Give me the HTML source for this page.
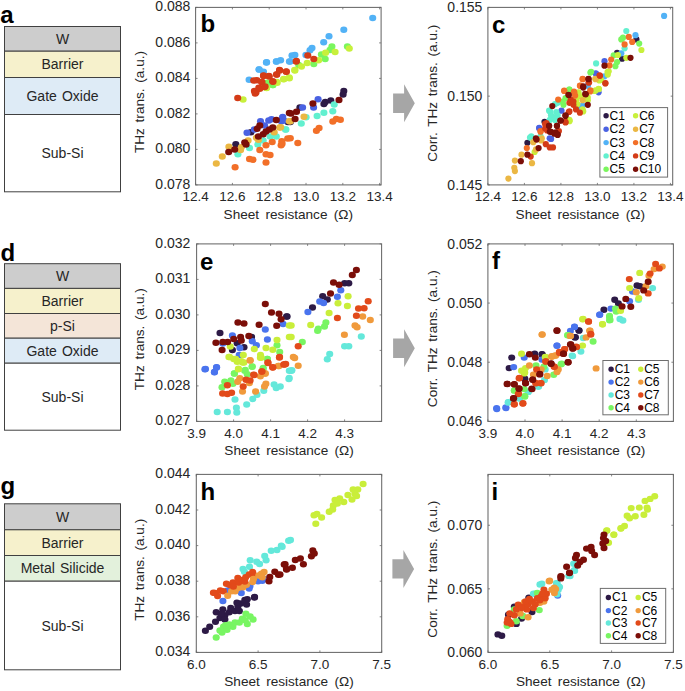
<!DOCTYPE html>
<html><head><meta charset="utf-8"><style>
html,body{margin:0;padding:0;background:#fff;}
svg{display:block;font-family:"Liberation Sans", sans-serif;}
</style></head><body>
<svg width="685" height="691" viewBox="0 0 685 691">
<rect width="685" height="691" fill="#fff"/>
<rect x="4.5" y="26.5" width="116.0" height="24.700000000000003" fill="#cdcdcd" stroke="#404040" stroke-width="1"/>
<text x="62.5" y="43.85" font-size="14" word-spacing="1.2" text-anchor="middle" fill="#262626">W</text>
<rect x="4.5" y="51.2" width="116.0" height="26.299999999999997" fill="#f6f1cc" stroke="#404040" stroke-width="1"/>
<text x="62.5" y="69.35" font-size="14" word-spacing="1.2" text-anchor="middle" fill="#262626">Barrier</text>
<rect x="4.5" y="77.5" width="116.0" height="37.0" fill="#deebf6" stroke="#404040" stroke-width="1"/>
<text x="62.5" y="101.0" font-size="14" word-spacing="1.2" text-anchor="middle" fill="#262626">Gate Oxide</text>
<rect x="4.5" y="114.5" width="116.0" height="77.30000000000001" fill="#ffffff" stroke="#404040" stroke-width="1"/>
<text x="62.5" y="158.15" font-size="14" word-spacing="1.2" text-anchor="middle" fill="#262626">Sub-Si</text>
<text x="0.2" y="22.5" font-size="24" font-weight="bold" fill="#000">a</text>
<rect x="4.5" y="263.7" width="116.0" height="24.69999999999999" fill="#cdcdcd" stroke="#404040" stroke-width="1"/>
<text x="62.5" y="281.04999999999995" font-size="14" word-spacing="1.2" text-anchor="middle" fill="#262626">W</text>
<rect x="4.5" y="288.4" width="116.0" height="25.100000000000023" fill="#f6f1cc" stroke="#404040" stroke-width="1"/>
<text x="62.5" y="305.95" font-size="14" word-spacing="1.2" text-anchor="middle" fill="#262626">Barrier</text>
<rect x="4.5" y="313.5" width="116.0" height="24.69999999999999" fill="#f4e5d8" stroke="#404040" stroke-width="1"/>
<text x="62.5" y="330.85" font-size="14" word-spacing="1.2" text-anchor="middle" fill="#262626">p-Si</text>
<rect x="4.5" y="338.2" width="116.0" height="25.0" fill="#deebf6" stroke="#404040" stroke-width="1"/>
<text x="62.5" y="355.7" font-size="14" word-spacing="1.2" text-anchor="middle" fill="#262626">Gate Oxide</text>
<rect x="4.5" y="363.2" width="116.0" height="67.0" fill="#ffffff" stroke="#404040" stroke-width="1"/>
<text x="62.5" y="401.7" font-size="14" word-spacing="1.2" text-anchor="middle" fill="#262626">Sub-Si</text>
<text x="0.5" y="261" font-size="24" font-weight="bold" fill="#000">d</text>
<rect x="4.5" y="503.8" width="116.0" height="25.999999999999943" fill="#cdcdcd" stroke="#404040" stroke-width="1"/>
<text x="62.5" y="521.8" font-size="14" word-spacing="1.2" text-anchor="middle" fill="#262626">W</text>
<rect x="4.5" y="529.8" width="116.0" height="25.700000000000045" fill="#f6f1cc" stroke="#404040" stroke-width="1"/>
<text x="62.5" y="547.65" font-size="14" word-spacing="1.2" text-anchor="middle" fill="#262626">Barrier</text>
<rect x="4.5" y="555.5" width="116.0" height="25.700000000000045" fill="#e3f1dc" stroke="#404040" stroke-width="1"/>
<text x="62.5" y="573.35" font-size="14" word-spacing="1.2" text-anchor="middle" fill="#262626">Metal Silicide</text>
<rect x="4.5" y="581.2" width="116.0" height="88.59999999999991" fill="#ffffff" stroke="#404040" stroke-width="1"/>
<text x="62.5" y="630.5" font-size="14" word-spacing="1.2" text-anchor="middle" fill="#262626">Sub-Si</text>
<text x="0.5" y="494" font-size="24" font-weight="bold" fill="#000">g</text>
<polygon fill="#a6a6a6" points="393.1,93.6 404.1,93.6 404.1,84.3 414.8,103.3 404.1,122.3 404.1,113.0 393.1,113.0"/>
<polygon fill="#a6a6a6" points="393.1,338.5 404.1,338.5 404.1,329.2 414.8,348.2 404.1,367.2 404.1,357.9 393.1,357.9"/>
<polygon fill="#a6a6a6" points="392.4,559.2 403.4,559.2 403.4,549.9 414.1,568.9 403.4,587.9 403.4,578.6 392.4,578.6"/>
<rect x="195.6" y="7.4" width="185.50000000000003" height="177.5" fill="none" stroke="#686868" stroke-width="1.05"/>
<line x1="195.60" y1="184.9" x2="195.60" y2="182.9" stroke="#686868" stroke-width="0.8"/>
<line x1="195.60" y1="7.4" x2="195.60" y2="9.4" stroke="#686868" stroke-width="0.8"/>
<text x="195.60" y="201.4" font-size="13.5" text-anchor="middle" fill="#262626">12.4</text>
<line x1="232.41" y1="184.9" x2="232.41" y2="182.9" stroke="#686868" stroke-width="0.8"/>
<line x1="232.41" y1="7.4" x2="232.41" y2="9.4" stroke="#686868" stroke-width="0.8"/>
<text x="232.41" y="201.4" font-size="13.5" text-anchor="middle" fill="#262626">12.6</text>
<line x1="269.21" y1="184.9" x2="269.21" y2="182.9" stroke="#686868" stroke-width="0.8"/>
<line x1="269.21" y1="7.4" x2="269.21" y2="9.4" stroke="#686868" stroke-width="0.8"/>
<text x="269.21" y="201.4" font-size="13.5" text-anchor="middle" fill="#262626">12.8</text>
<line x1="306.02" y1="184.9" x2="306.02" y2="182.9" stroke="#686868" stroke-width="0.8"/>
<line x1="306.02" y1="7.4" x2="306.02" y2="9.4" stroke="#686868" stroke-width="0.8"/>
<text x="306.02" y="201.4" font-size="13.5" text-anchor="middle" fill="#262626">13.0</text>
<line x1="342.82" y1="184.9" x2="342.82" y2="182.9" stroke="#686868" stroke-width="0.8"/>
<line x1="342.82" y1="7.4" x2="342.82" y2="9.4" stroke="#686868" stroke-width="0.8"/>
<text x="342.82" y="201.4" font-size="13.5" text-anchor="middle" fill="#262626">13.2</text>
<line x1="379.63" y1="184.9" x2="379.63" y2="182.9" stroke="#686868" stroke-width="0.8"/>
<line x1="379.63" y1="7.4" x2="379.63" y2="9.4" stroke="#686868" stroke-width="0.8"/>
<text x="379.63" y="201.4" font-size="13.5" text-anchor="middle" fill="#262626">13.4</text>
<line x1="195.6" y1="184.90" x2="197.6" y2="184.90" stroke="#686868" stroke-width="0.8"/>
<line x1="381.1" y1="184.90" x2="379.1" y2="184.90" stroke="#686868" stroke-width="0.8"/>
<text x="190.4" y="188.70" font-size="14" text-anchor="end" fill="#262626">0.078</text>
<line x1="195.6" y1="149.40" x2="197.6" y2="149.40" stroke="#686868" stroke-width="0.8"/>
<line x1="381.1" y1="149.40" x2="379.1" y2="149.40" stroke="#686868" stroke-width="0.8"/>
<text x="190.4" y="153.20" font-size="14" text-anchor="end" fill="#262626">0.080</text>
<line x1="195.6" y1="113.90" x2="197.6" y2="113.90" stroke="#686868" stroke-width="0.8"/>
<line x1="381.1" y1="113.90" x2="379.1" y2="113.90" stroke="#686868" stroke-width="0.8"/>
<text x="190.4" y="117.70" font-size="14" text-anchor="end" fill="#262626">0.082</text>
<line x1="195.6" y1="78.40" x2="197.6" y2="78.40" stroke="#686868" stroke-width="0.8"/>
<line x1="381.1" y1="78.40" x2="379.1" y2="78.40" stroke="#686868" stroke-width="0.8"/>
<text x="190.4" y="82.20" font-size="14" text-anchor="end" fill="#262626">0.084</text>
<line x1="195.6" y1="42.90" x2="197.6" y2="42.90" stroke="#686868" stroke-width="0.8"/>
<line x1="381.1" y1="42.90" x2="379.1" y2="42.90" stroke="#686868" stroke-width="0.8"/>
<text x="190.4" y="46.70" font-size="14" text-anchor="end" fill="#262626">0.086</text>
<line x1="195.6" y1="7.40" x2="197.6" y2="7.40" stroke="#686868" stroke-width="0.8"/>
<line x1="381.1" y1="7.40" x2="379.1" y2="7.40" stroke="#686868" stroke-width="0.8"/>
<text x="190.4" y="11.20" font-size="14" text-anchor="end" fill="#262626">0.088</text>
<text x="288.35" y="219.4" font-size="13.6" word-spacing="2.6" text-anchor="middle" fill="#262626">Sheet resistance (&#937;)</text>
<text transform="translate(143.6,102) rotate(-90)" x="0" y="0" font-size="13.6" word-spacing="1.9" text-anchor="middle" fill="#262626">THz trans. (a.u.)</text>
<text x="200.5" y="32" font-size="24" font-weight="bold" fill="#000">b</text>
<rect x="487.9" y="7.4" width="184.80000000000007" height="177.5" fill="none" stroke="#686868" stroke-width="1.05"/>
<line x1="487.90" y1="184.9" x2="487.90" y2="182.9" stroke="#686868" stroke-width="0.8"/>
<line x1="487.90" y1="7.4" x2="487.90" y2="9.4" stroke="#686868" stroke-width="0.8"/>
<text x="487.90" y="201.4" font-size="13.5" text-anchor="middle" fill="#262626">12.4</text>
<line x1="524.40" y1="184.9" x2="524.40" y2="182.9" stroke="#686868" stroke-width="0.8"/>
<line x1="524.40" y1="7.4" x2="524.40" y2="9.4" stroke="#686868" stroke-width="0.8"/>
<text x="524.40" y="201.4" font-size="13.5" text-anchor="middle" fill="#262626">12.6</text>
<line x1="560.91" y1="184.9" x2="560.91" y2="182.9" stroke="#686868" stroke-width="0.8"/>
<line x1="560.91" y1="7.4" x2="560.91" y2="9.4" stroke="#686868" stroke-width="0.8"/>
<text x="560.91" y="201.4" font-size="13.5" text-anchor="middle" fill="#262626">12.8</text>
<line x1="597.41" y1="184.9" x2="597.41" y2="182.9" stroke="#686868" stroke-width="0.8"/>
<line x1="597.41" y1="7.4" x2="597.41" y2="9.4" stroke="#686868" stroke-width="0.8"/>
<text x="597.41" y="201.4" font-size="13.5" text-anchor="middle" fill="#262626">13.0</text>
<line x1="633.91" y1="184.9" x2="633.91" y2="182.9" stroke="#686868" stroke-width="0.8"/>
<line x1="633.91" y1="7.4" x2="633.91" y2="9.4" stroke="#686868" stroke-width="0.8"/>
<text x="633.91" y="201.4" font-size="13.5" text-anchor="middle" fill="#262626">13.2</text>
<line x1="670.42" y1="184.9" x2="670.42" y2="182.9" stroke="#686868" stroke-width="0.8"/>
<line x1="670.42" y1="7.4" x2="670.42" y2="9.4" stroke="#686868" stroke-width="0.8"/>
<text x="670.42" y="201.4" font-size="13.5" text-anchor="middle" fill="#262626">13.4</text>
<line x1="487.9" y1="184.90" x2="489.9" y2="184.90" stroke="#686868" stroke-width="0.8"/>
<line x1="672.7" y1="184.90" x2="670.7" y2="184.90" stroke="#686868" stroke-width="0.8"/>
<text x="482.4" y="189.70" font-size="14" text-anchor="end" fill="#262626">0.145</text>
<line x1="487.9" y1="96.15" x2="489.9" y2="96.15" stroke="#686868" stroke-width="0.8"/>
<line x1="672.7" y1="96.15" x2="670.7" y2="96.15" stroke="#686868" stroke-width="0.8"/>
<text x="482.4" y="100.95" font-size="14" text-anchor="end" fill="#262626">0.150</text>
<line x1="487.9" y1="7.40" x2="489.9" y2="7.40" stroke="#686868" stroke-width="0.8"/>
<line x1="672.7" y1="7.40" x2="670.7" y2="7.40" stroke="#686868" stroke-width="0.8"/>
<text x="482.4" y="12.20" font-size="14" text-anchor="end" fill="#262626">0.155</text>
<text x="580.3" y="219.4" font-size="13.6" word-spacing="2.6" text-anchor="middle" fill="#262626">Sheet resistance (&#937;)</text>
<text transform="translate(437.2,93.2) rotate(-90)" x="0" y="0" font-size="13.6" word-spacing="1.9" text-anchor="middle" fill="#262626">Corr. THz trans. (a.u.)</text>
<text x="492" y="33.3" font-size="24" font-weight="bold" fill="#000">c</text>
<rect x="196.6" y="243.9" width="185.00000000000003" height="177.49999999999997" fill="none" stroke="#686868" stroke-width="1.05"/>
<line x1="196.60" y1="421.4" x2="196.60" y2="419.4" stroke="#686868" stroke-width="0.8"/>
<line x1="196.60" y1="243.9" x2="196.60" y2="245.9" stroke="#686868" stroke-width="0.8"/>
<text x="196.60" y="437.9" font-size="13.5" text-anchor="middle" fill="#262626">3.9</text>
<line x1="233.60" y1="421.4" x2="233.60" y2="419.4" stroke="#686868" stroke-width="0.8"/>
<line x1="233.60" y1="243.9" x2="233.60" y2="245.9" stroke="#686868" stroke-width="0.8"/>
<text x="233.60" y="437.9" font-size="13.5" text-anchor="middle" fill="#262626">4.0</text>
<line x1="270.60" y1="421.4" x2="270.60" y2="419.4" stroke="#686868" stroke-width="0.8"/>
<line x1="270.60" y1="243.9" x2="270.60" y2="245.9" stroke="#686868" stroke-width="0.8"/>
<text x="270.60" y="437.9" font-size="13.5" text-anchor="middle" fill="#262626">4.1</text>
<line x1="307.60" y1="421.4" x2="307.60" y2="419.4" stroke="#686868" stroke-width="0.8"/>
<line x1="307.60" y1="243.9" x2="307.60" y2="245.9" stroke="#686868" stroke-width="0.8"/>
<text x="307.60" y="437.9" font-size="13.5" text-anchor="middle" fill="#262626">4.2</text>
<line x1="344.60" y1="421.4" x2="344.60" y2="419.4" stroke="#686868" stroke-width="0.8"/>
<line x1="344.60" y1="243.9" x2="344.60" y2="245.9" stroke="#686868" stroke-width="0.8"/>
<text x="344.60" y="437.9" font-size="13.5" text-anchor="middle" fill="#262626">4.3</text>
<line x1="196.6" y1="421.40" x2="198.6" y2="421.40" stroke="#686868" stroke-width="0.8"/>
<line x1="381.6" y1="421.40" x2="379.6" y2="421.40" stroke="#686868" stroke-width="0.8"/>
<text x="190.4" y="425.20" font-size="14" text-anchor="end" fill="#262626">0.027</text>
<line x1="196.6" y1="385.90" x2="198.6" y2="385.90" stroke="#686868" stroke-width="0.8"/>
<line x1="381.6" y1="385.90" x2="379.6" y2="385.90" stroke="#686868" stroke-width="0.8"/>
<text x="190.4" y="389.70" font-size="14" text-anchor="end" fill="#262626">0.028</text>
<line x1="196.6" y1="350.40" x2="198.6" y2="350.40" stroke="#686868" stroke-width="0.8"/>
<line x1="381.6" y1="350.40" x2="379.6" y2="350.40" stroke="#686868" stroke-width="0.8"/>
<text x="190.4" y="354.20" font-size="14" text-anchor="end" fill="#262626">0.029</text>
<line x1="196.6" y1="314.90" x2="198.6" y2="314.90" stroke="#686868" stroke-width="0.8"/>
<line x1="381.6" y1="314.90" x2="379.6" y2="314.90" stroke="#686868" stroke-width="0.8"/>
<text x="190.4" y="318.70" font-size="14" text-anchor="end" fill="#262626">0.030</text>
<line x1="196.6" y1="279.40" x2="198.6" y2="279.40" stroke="#686868" stroke-width="0.8"/>
<line x1="381.6" y1="279.40" x2="379.6" y2="279.40" stroke="#686868" stroke-width="0.8"/>
<text x="190.4" y="283.20" font-size="14" text-anchor="end" fill="#262626">0.031</text>
<line x1="196.6" y1="243.90" x2="198.6" y2="243.90" stroke="#686868" stroke-width="0.8"/>
<line x1="381.6" y1="243.90" x2="379.6" y2="243.90" stroke="#686868" stroke-width="0.8"/>
<text x="190.4" y="247.70" font-size="14" text-anchor="end" fill="#262626">0.032</text>
<text x="289.1" y="454.6" font-size="13.6" word-spacing="2.6" text-anchor="middle" fill="#262626">Sheet resistance (&#937;)</text>
<text transform="translate(143.6,339.2) rotate(-90)" x="0" y="0" font-size="13.6" word-spacing="1.9" text-anchor="middle" fill="#262626">THz trans. (a.u.)</text>
<text x="200" y="269.7" font-size="24" font-weight="bold" fill="#000">e</text>
<rect x="487.9" y="243.9" width="185.5" height="177.49999999999997" fill="none" stroke="#686868" stroke-width="1.05"/>
<line x1="487.90" y1="421.4" x2="487.90" y2="419.4" stroke="#686868" stroke-width="0.8"/>
<line x1="487.90" y1="243.9" x2="487.90" y2="245.9" stroke="#686868" stroke-width="0.8"/>
<text x="487.90" y="437.9" font-size="13.5" text-anchor="middle" fill="#262626">3.9</text>
<line x1="525.00" y1="421.4" x2="525.00" y2="419.4" stroke="#686868" stroke-width="0.8"/>
<line x1="525.00" y1="243.9" x2="525.00" y2="245.9" stroke="#686868" stroke-width="0.8"/>
<text x="525.00" y="437.9" font-size="13.5" text-anchor="middle" fill="#262626">4.0</text>
<line x1="562.10" y1="421.4" x2="562.10" y2="419.4" stroke="#686868" stroke-width="0.8"/>
<line x1="562.10" y1="243.9" x2="562.10" y2="245.9" stroke="#686868" stroke-width="0.8"/>
<text x="562.10" y="437.9" font-size="13.5" text-anchor="middle" fill="#262626">4.1</text>
<line x1="599.20" y1="421.4" x2="599.20" y2="419.4" stroke="#686868" stroke-width="0.8"/>
<line x1="599.20" y1="243.9" x2="599.20" y2="245.9" stroke="#686868" stroke-width="0.8"/>
<text x="599.20" y="437.9" font-size="13.5" text-anchor="middle" fill="#262626">4.2</text>
<line x1="636.30" y1="421.4" x2="636.30" y2="419.4" stroke="#686868" stroke-width="0.8"/>
<line x1="636.30" y1="243.9" x2="636.30" y2="245.9" stroke="#686868" stroke-width="0.8"/>
<text x="636.30" y="437.9" font-size="13.5" text-anchor="middle" fill="#262626">4.3</text>
<line x1="487.9" y1="421.40" x2="489.9" y2="421.40" stroke="#686868" stroke-width="0.8"/>
<line x1="673.4" y1="421.40" x2="671.4" y2="421.40" stroke="#686868" stroke-width="0.8"/>
<text x="482.4" y="426.20" font-size="14" text-anchor="end" fill="#262626">0.046</text>
<line x1="487.9" y1="362.23" x2="489.9" y2="362.23" stroke="#686868" stroke-width="0.8"/>
<line x1="673.4" y1="362.23" x2="671.4" y2="362.23" stroke="#686868" stroke-width="0.8"/>
<text x="482.4" y="367.03" font-size="14" text-anchor="end" fill="#262626">0.048</text>
<line x1="487.9" y1="303.07" x2="489.9" y2="303.07" stroke="#686868" stroke-width="0.8"/>
<line x1="673.4" y1="303.07" x2="671.4" y2="303.07" stroke="#686868" stroke-width="0.8"/>
<text x="482.4" y="307.87" font-size="14" text-anchor="end" fill="#262626">0.050</text>
<line x1="487.9" y1="243.90" x2="489.9" y2="243.90" stroke="#686868" stroke-width="0.8"/>
<line x1="673.4" y1="243.90" x2="671.4" y2="243.90" stroke="#686868" stroke-width="0.8"/>
<text x="482.4" y="248.70" font-size="14" text-anchor="end" fill="#262626">0.052</text>
<text x="580.65" y="454.6" font-size="13.6" word-spacing="2.6" text-anchor="middle" fill="#262626">Sheet resistance (&#937;)</text>
<text transform="translate(437.2,338.7) rotate(-90)" x="0" y="0" font-size="13.6" word-spacing="1.9" text-anchor="middle" fill="#262626">Corr. THz trans. (a.u.)</text>
<text x="492" y="269.1" font-size="24" font-weight="bold" fill="#000">f</text>
<rect x="196.3" y="474.4" width="185.39999999999998" height="178.0" fill="none" stroke="#686868" stroke-width="1.05"/>
<line x1="196.30" y1="652.4" x2="196.30" y2="650.4" stroke="#686868" stroke-width="0.8"/>
<line x1="196.30" y1="474.4" x2="196.30" y2="476.4" stroke="#686868" stroke-width="0.8"/>
<text x="196.30" y="668.9" font-size="13.5" text-anchor="middle" fill="#262626">6.0</text>
<line x1="258.10" y1="652.4" x2="258.10" y2="650.4" stroke="#686868" stroke-width="0.8"/>
<line x1="258.10" y1="474.4" x2="258.10" y2="476.4" stroke="#686868" stroke-width="0.8"/>
<text x="258.10" y="668.9" font-size="13.5" text-anchor="middle" fill="#262626">6.5</text>
<line x1="319.90" y1="652.4" x2="319.90" y2="650.4" stroke="#686868" stroke-width="0.8"/>
<line x1="319.90" y1="474.4" x2="319.90" y2="476.4" stroke="#686868" stroke-width="0.8"/>
<text x="319.90" y="668.9" font-size="13.5" text-anchor="middle" fill="#262626">7.0</text>
<line x1="381.70" y1="652.4" x2="381.70" y2="650.4" stroke="#686868" stroke-width="0.8"/>
<line x1="381.70" y1="474.4" x2="381.70" y2="476.4" stroke="#686868" stroke-width="0.8"/>
<text x="381.70" y="668.9" font-size="13.5" text-anchor="middle" fill="#262626">7.5</text>
<line x1="196.3" y1="652.40" x2="198.3" y2="652.40" stroke="#686868" stroke-width="0.8"/>
<line x1="381.7" y1="652.40" x2="379.7" y2="652.40" stroke="#686868" stroke-width="0.8"/>
<text x="190.4" y="656.20" font-size="14" text-anchor="end" fill="#262626">0.034</text>
<line x1="196.3" y1="616.80" x2="198.3" y2="616.80" stroke="#686868" stroke-width="0.8"/>
<line x1="381.7" y1="616.80" x2="379.7" y2="616.80" stroke="#686868" stroke-width="0.8"/>
<text x="190.4" y="620.60" font-size="14" text-anchor="end" fill="#262626">0.036</text>
<line x1="196.3" y1="581.20" x2="198.3" y2="581.20" stroke="#686868" stroke-width="0.8"/>
<line x1="381.7" y1="581.20" x2="379.7" y2="581.20" stroke="#686868" stroke-width="0.8"/>
<text x="190.4" y="585.00" font-size="14" text-anchor="end" fill="#262626">0.038</text>
<line x1="196.3" y1="545.60" x2="198.3" y2="545.60" stroke="#686868" stroke-width="0.8"/>
<line x1="381.7" y1="545.60" x2="379.7" y2="545.60" stroke="#686868" stroke-width="0.8"/>
<text x="190.4" y="549.40" font-size="14" text-anchor="end" fill="#262626">0.040</text>
<line x1="196.3" y1="510.00" x2="198.3" y2="510.00" stroke="#686868" stroke-width="0.8"/>
<line x1="381.7" y1="510.00" x2="379.7" y2="510.00" stroke="#686868" stroke-width="0.8"/>
<text x="190.4" y="513.80" font-size="14" text-anchor="end" fill="#262626">0.042</text>
<line x1="196.3" y1="474.40" x2="198.3" y2="474.40" stroke="#686868" stroke-width="0.8"/>
<line x1="381.7" y1="474.40" x2="379.7" y2="474.40" stroke="#686868" stroke-width="0.8"/>
<text x="190.4" y="478.20" font-size="14" text-anchor="end" fill="#262626">0.044</text>
<text x="289.0" y="685.6" font-size="13.6" word-spacing="2.6" text-anchor="middle" fill="#262626">Sheet resistance (&#937;)</text>
<text transform="translate(143.6,569.8) rotate(-90)" x="0" y="0" font-size="13.6" word-spacing="1.9" text-anchor="middle" fill="#262626">THz trans. (a.u.)</text>
<text x="200.5" y="500.3" font-size="24" font-weight="bold" fill="#000">h</text>
<rect x="488" y="474.4" width="185.39999999999998" height="178.0" fill="none" stroke="#686868" stroke-width="1.05"/>
<line x1="488.00" y1="652.4" x2="488.00" y2="650.4" stroke="#686868" stroke-width="0.8"/>
<line x1="488.00" y1="474.4" x2="488.00" y2="476.4" stroke="#686868" stroke-width="0.8"/>
<text x="488.00" y="668.9" font-size="13.5" text-anchor="middle" fill="#262626">6.0</text>
<line x1="549.80" y1="652.4" x2="549.80" y2="650.4" stroke="#686868" stroke-width="0.8"/>
<line x1="549.80" y1="474.4" x2="549.80" y2="476.4" stroke="#686868" stroke-width="0.8"/>
<text x="549.80" y="668.9" font-size="13.5" text-anchor="middle" fill="#262626">6.5</text>
<line x1="611.60" y1="652.4" x2="611.60" y2="650.4" stroke="#686868" stroke-width="0.8"/>
<line x1="611.60" y1="474.4" x2="611.60" y2="476.4" stroke="#686868" stroke-width="0.8"/>
<text x="611.60" y="668.9" font-size="13.5" text-anchor="middle" fill="#262626">7.0</text>
<line x1="673.40" y1="652.4" x2="673.40" y2="650.4" stroke="#686868" stroke-width="0.8"/>
<line x1="673.40" y1="474.4" x2="673.40" y2="476.4" stroke="#686868" stroke-width="0.8"/>
<text x="673.40" y="668.9" font-size="13.5" text-anchor="middle" fill="#262626">7.5</text>
<line x1="488" y1="652.40" x2="490" y2="652.40" stroke="#686868" stroke-width="0.8"/>
<line x1="673.4" y1="652.40" x2="671.4" y2="652.40" stroke="#686868" stroke-width="0.8"/>
<text x="482.4" y="657.20" font-size="14" text-anchor="end" fill="#262626">0.060</text>
<line x1="488" y1="588.83" x2="490" y2="588.83" stroke="#686868" stroke-width="0.8"/>
<line x1="673.4" y1="588.83" x2="671.4" y2="588.83" stroke="#686868" stroke-width="0.8"/>
<text x="482.4" y="593.63" font-size="14" text-anchor="end" fill="#262626">0.065</text>
<line x1="488" y1="525.26" x2="490" y2="525.26" stroke="#686868" stroke-width="0.8"/>
<line x1="673.4" y1="525.26" x2="671.4" y2="525.26" stroke="#686868" stroke-width="0.8"/>
<text x="482.4" y="530.06" font-size="14" text-anchor="end" fill="#262626">0.070</text>
<text x="580.7" y="685.6" font-size="13.6" word-spacing="2.6" text-anchor="middle" fill="#262626">Sheet resistance (&#937;)</text>
<text transform="translate(437.2,569.2) rotate(-90)" x="0" y="0" font-size="13.6" word-spacing="1.9" text-anchor="middle" fill="#262626">Corr. THz trans. (a.u.)</text>
<text x="491.5" y="499.7" font-size="24" font-weight="bold" fill="#000">i</text>
<g><ellipse cx="235.8" cy="144.2" rx="3.55" ry="3.25" fill="#2d1a46"/><ellipse cx="250.9" cy="132.2" rx="3.55" ry="3.25" fill="#2d1a46"/><ellipse cx="288.0" cy="122.0" rx="3.55" ry="3.25" fill="#2d1a46"/><ellipse cx="343.8" cy="91.0" rx="3.55" ry="3.25" fill="#2d1a46"/><ellipse cx="343.1" cy="94.4" rx="3.55" ry="3.25" fill="#2d1a46"/><ellipse cx="330.8" cy="100.6" rx="3.55" ry="3.25" fill="#2d1a46"/><ellipse cx="325.3" cy="102.0" rx="3.55" ry="3.25" fill="#2d1a46"/><ellipse cx="323.9" cy="104.0" rx="3.55" ry="3.25" fill="#2d1a46"/><ellipse cx="299.9" cy="107.4" rx="3.55" ry="3.25" fill="#2d1a46"/><ellipse cx="290.3" cy="121.9" rx="3.55" ry="3.25" fill="#2d1a46"/><ellipse cx="247.0" cy="132.7" rx="3.55" ry="3.25" fill="#4a62e2"/><ellipse cx="254.3" cy="129.5" rx="3.55" ry="3.25" fill="#4a62e2"/><ellipse cx="260.5" cy="121.3" rx="3.55" ry="3.25" fill="#4a62e2"/><ellipse cx="268.7" cy="120.6" rx="3.55" ry="3.25" fill="#4a62e2"/><ellipse cx="271.5" cy="119.2" rx="3.55" ry="3.25" fill="#4a62e2"/><ellipse cx="282.5" cy="117.8" rx="3.55" ry="3.25" fill="#4a62e2"/><ellipse cx="283.8" cy="120.6" rx="3.55" ry="3.25" fill="#4a62e2"/><ellipse cx="264.6" cy="125.4" rx="3.55" ry="3.25" fill="#4a62e2"/><ellipse cx="318.1" cy="99.2" rx="3.55" ry="3.25" fill="#4a62e2"/><ellipse cx="313.6" cy="107.4" rx="3.55" ry="3.25" fill="#4a62e2"/><ellipse cx="302.6" cy="107.4" rx="3.55" ry="3.25" fill="#4a62e2"/><ellipse cx="282.7" cy="117.0" rx="3.55" ry="3.25" fill="#4a62e2"/><ellipse cx="281.4" cy="121.2" rx="3.55" ry="3.25" fill="#4a62e2"/><ellipse cx="372.7" cy="18.0" rx="3.55" ry="3.25" fill="#52b2f6"/><ellipse cx="343.8" cy="29.7" rx="3.55" ry="3.25" fill="#52b2f6"/><ellipse cx="329.0" cy="36.2" rx="3.55" ry="3.25" fill="#52b2f6"/><ellipse cx="323.7" cy="42.3" rx="3.55" ry="3.25" fill="#52b2f6"/><ellipse cx="312.0" cy="48.0" rx="3.55" ry="3.25" fill="#52b2f6"/><ellipse cx="310.0" cy="50.2" rx="3.55" ry="3.25" fill="#52b2f6"/><ellipse cx="305.9" cy="55.0" rx="3.55" ry="3.25" fill="#52b2f6"/><ellipse cx="294.9" cy="55.0" rx="3.55" ry="3.25" fill="#52b2f6"/><ellipse cx="292.0" cy="55.5" rx="3.55" ry="3.25" fill="#52b2f6"/><ellipse cx="290.1" cy="61.6" rx="3.55" ry="3.25" fill="#52b2f6"/><ellipse cx="280.6" cy="60.3" rx="3.55" ry="3.25" fill="#52b2f6"/><ellipse cx="276.3" cy="61.6" rx="3.55" ry="3.25" fill="#52b2f6"/><ellipse cx="266.4" cy="62.4" rx="3.55" ry="3.25" fill="#52b2f6"/><ellipse cx="259.2" cy="69.4" rx="3.55" ry="3.25" fill="#52b2f6"/><ellipse cx="263.5" cy="71.7" rx="3.55" ry="3.25" fill="#52b2f6"/><ellipse cx="249.1" cy="79.7" rx="3.55" ry="3.25" fill="#52b2f6"/><ellipse cx="259.0" cy="69.4" rx="3.55" ry="3.25" fill="#52b2f6"/><ellipse cx="266.6" cy="62.3" rx="3.55" ry="3.25" fill="#52b2f6"/><ellipse cx="276.5" cy="61.5" rx="3.55" ry="3.25" fill="#52b2f6"/><ellipse cx="289.4" cy="61.5" rx="3.55" ry="3.25" fill="#52b2f6"/><ellipse cx="237.9" cy="154.2" rx="3.55" ry="3.25" fill="#62f0cf"/><ellipse cx="249.5" cy="148.0" rx="3.55" ry="3.25" fill="#62f0cf"/><ellipse cx="257.8" cy="144.6" rx="3.55" ry="3.25" fill="#62f0cf"/><ellipse cx="263.2" cy="140.5" rx="3.55" ry="3.25" fill="#62f0cf"/><ellipse cx="270.1" cy="136.4" rx="3.55" ry="3.25" fill="#62f0cf"/><ellipse cx="276.3" cy="136.4" rx="3.55" ry="3.25" fill="#62f0cf"/><ellipse cx="285.9" cy="129.5" rx="3.55" ry="3.25" fill="#62f0cf"/><ellipse cx="334.2" cy="104.4" rx="3.55" ry="3.25" fill="#62f0cf"/><ellipse cx="332.8" cy="111.3" rx="3.55" ry="3.25" fill="#62f0cf"/><ellipse cx="323.9" cy="112.7" rx="3.55" ry="3.25" fill="#62f0cf"/><ellipse cx="317.1" cy="116.0" rx="3.55" ry="3.25" fill="#62f0cf"/><ellipse cx="301.3" cy="123.6" rx="3.55" ry="3.25" fill="#62f0cf"/><ellipse cx="285.5" cy="129.4" rx="3.55" ry="3.25" fill="#62f0cf"/><ellipse cx="306.1" cy="117.3" rx="3.55" ry="3.25" fill="#62f0cf"/><ellipse cx="347.4" cy="46.4" rx="3.55" ry="3.25" fill="#7af65e"/><ellipse cx="331.9" cy="46.4" rx="3.55" ry="3.25" fill="#7af65e"/><ellipse cx="330.0" cy="49.9" rx="3.55" ry="3.25" fill="#7af65e"/><ellipse cx="321.4" cy="54.6" rx="3.55" ry="3.25" fill="#7af65e"/><ellipse cx="325.2" cy="59.0" rx="3.55" ry="3.25" fill="#7af65e"/><ellipse cx="313.8" cy="64.1" rx="3.55" ry="3.25" fill="#7af65e"/><ellipse cx="298.7" cy="65.0" rx="3.55" ry="3.25" fill="#7af65e"/><ellipse cx="273.0" cy="85.0" rx="3.55" ry="3.25" fill="#7af65e"/><ellipse cx="272.7" cy="85.0" rx="3.55" ry="3.25" fill="#7af65e"/><ellipse cx="267.4" cy="82.8" rx="3.55" ry="3.25" fill="#7af65e"/><ellipse cx="349.3" cy="48.5" rx="3.55" ry="3.25" fill="#c8f03c"/><ellipse cx="335.1" cy="52.1" rx="3.55" ry="3.25" fill="#c8f03c"/><ellipse cx="325.6" cy="52.7" rx="3.55" ry="3.25" fill="#c8f03c"/><ellipse cx="318.6" cy="60.3" rx="3.55" ry="3.25" fill="#c8f03c"/><ellipse cx="307.2" cy="63.1" rx="3.55" ry="3.25" fill="#c8f03c"/><ellipse cx="301.5" cy="66.6" rx="3.55" ry="3.25" fill="#c8f03c"/><ellipse cx="294.9" cy="70.4" rx="3.55" ry="3.25" fill="#c8f03c"/><ellipse cx="289.2" cy="77.4" rx="3.55" ry="3.25" fill="#c8f03c"/><ellipse cx="283.5" cy="79.3" rx="3.55" ry="3.25" fill="#c8f03c"/><ellipse cx="276.8" cy="82.1" rx="3.55" ry="3.25" fill="#c8f03c"/><ellipse cx="266.4" cy="87.8" rx="3.55" ry="3.25" fill="#c8f03c"/><ellipse cx="243.1" cy="99.5" rx="3.55" ry="3.25" fill="#c8f03c"/><ellipse cx="266.6" cy="88.1" rx="3.55" ry="3.25" fill="#c8f03c"/><ellipse cx="277.2" cy="82.8" rx="3.55" ry="3.25" fill="#c8f03c"/><ellipse cx="284.0" cy="79.0" rx="3.55" ry="3.25" fill="#c8f03c"/><ellipse cx="289.4" cy="78.2" rx="3.55" ry="3.25" fill="#c8f03c"/><ellipse cx="294.7" cy="69.9" rx="3.55" ry="3.25" fill="#c8f03c"/><ellipse cx="216.3" cy="163.4" rx="3.55" ry="3.25" fill="#ebb743"/><ellipse cx="222.3" cy="156.5" rx="3.55" ry="3.25" fill="#ebb743"/><ellipse cx="228.9" cy="146.7" rx="3.55" ry="3.25" fill="#ebb743"/><ellipse cx="240.6" cy="150.1" rx="3.55" ry="3.25" fill="#ebb743"/><ellipse cx="241.3" cy="147.3" rx="3.55" ry="3.25" fill="#ebb743"/><ellipse cx="248.1" cy="140.5" rx="3.55" ry="3.25" fill="#ebb743"/><ellipse cx="256.4" cy="137.7" rx="3.55" ry="3.25" fill="#ebb743"/><ellipse cx="258.4" cy="139.8" rx="3.55" ry="3.25" fill="#ebb743"/><ellipse cx="274.2" cy="132.2" rx="3.55" ry="3.25" fill="#ebb743"/><ellipse cx="279.7" cy="127.4" rx="3.55" ry="3.25" fill="#ebb743"/><ellipse cx="289.3" cy="121.3" rx="3.55" ry="3.25" fill="#ebb743"/><ellipse cx="304.0" cy="116.8" rx="3.55" ry="3.25" fill="#ebb743"/><ellipse cx="290.3" cy="121.2" rx="3.55" ry="3.25" fill="#ebb743"/><ellipse cx="280.7" cy="127.3" rx="3.55" ry="3.25" fill="#ebb743"/><ellipse cx="235.1" cy="167.2" rx="3.55" ry="3.25" fill="#f26f28"/><ellipse cx="249.5" cy="159.0" rx="3.55" ry="3.25" fill="#f26f28"/><ellipse cx="253.0" cy="159.7" rx="3.55" ry="3.25" fill="#f26f28"/><ellipse cx="259.8" cy="150.1" rx="3.55" ry="3.25" fill="#f26f28"/><ellipse cx="266.0" cy="145.3" rx="3.55" ry="3.25" fill="#f26f28"/><ellipse cx="266.0" cy="162.4" rx="3.55" ry="3.25" fill="#f26f28"/><ellipse cx="266.0" cy="154.2" rx="3.55" ry="3.25" fill="#f26f28"/><ellipse cx="270.1" cy="154.9" rx="3.55" ry="3.25" fill="#f26f28"/><ellipse cx="272.2" cy="141.9" rx="3.55" ry="3.25" fill="#f26f28"/><ellipse cx="281.8" cy="141.2" rx="3.55" ry="3.25" fill="#f26f28"/><ellipse cx="281.1" cy="145.3" rx="3.55" ry="3.25" fill="#f26f28"/><ellipse cx="287.7" cy="138.4" rx="3.55" ry="3.25" fill="#f26f28"/><ellipse cx="340.4" cy="119.8" rx="3.55" ry="3.25" fill="#f26f28"/><ellipse cx="336.3" cy="119.1" rx="3.55" ry="3.25" fill="#f26f28"/><ellipse cx="332.8" cy="121.4" rx="3.55" ry="3.25" fill="#f26f28"/><ellipse cx="319.1" cy="128.0" rx="3.55" ry="3.25" fill="#f26f28"/><ellipse cx="316.4" cy="130.8" rx="3.55" ry="3.25" fill="#f26f28"/><ellipse cx="290.3" cy="138.3" rx="3.55" ry="3.25" fill="#f26f28"/><ellipse cx="282.1" cy="143.8" rx="3.55" ry="3.25" fill="#f26f28"/><ellipse cx="297.8" cy="143.1" rx="3.55" ry="3.25" fill="#f26f28"/><ellipse cx="307.8" cy="55.5" rx="3.55" ry="3.25" fill="#d43b17"/><ellipse cx="313.8" cy="59.0" rx="3.55" ry="3.25" fill="#d43b17"/><ellipse cx="296.4" cy="60.9" rx="3.55" ry="3.25" fill="#d43b17"/><ellipse cx="279.7" cy="70.4" rx="3.55" ry="3.25" fill="#d43b17"/><ellipse cx="286.3" cy="71.7" rx="3.55" ry="3.25" fill="#d43b17"/><ellipse cx="276.8" cy="74.5" rx="3.55" ry="3.25" fill="#d43b17"/><ellipse cx="263.5" cy="75.5" rx="3.55" ry="3.25" fill="#d43b17"/><ellipse cx="269.2" cy="76.4" rx="3.55" ry="3.25" fill="#d43b17"/><ellipse cx="273.0" cy="81.7" rx="3.55" ry="3.25" fill="#d43b17"/><ellipse cx="261.6" cy="82.1" rx="3.55" ry="3.25" fill="#d43b17"/><ellipse cx="256.9" cy="80.2" rx="3.55" ry="3.25" fill="#d43b17"/><ellipse cx="264.5" cy="86.9" rx="3.55" ry="3.25" fill="#d43b17"/><ellipse cx="258.8" cy="87.8" rx="3.55" ry="3.25" fill="#d43b17"/><ellipse cx="256.0" cy="92.6" rx="3.55" ry="3.25" fill="#d43b17"/><ellipse cx="237.7" cy="98.0" rx="3.55" ry="3.25" fill="#d43b17"/><ellipse cx="253.7" cy="80.5" rx="3.55" ry="3.25" fill="#d43b17"/><ellipse cx="254.4" cy="91.1" rx="3.55" ry="3.25" fill="#d43b17"/><ellipse cx="255.2" cy="93.4" rx="3.55" ry="3.25" fill="#d43b17"/><ellipse cx="259.8" cy="88.8" rx="3.55" ry="3.25" fill="#d43b17"/><ellipse cx="262.0" cy="82.0" rx="3.55" ry="3.25" fill="#d43b17"/><ellipse cx="263.6" cy="75.9" rx="3.55" ry="3.25" fill="#d43b17"/><ellipse cx="265.1" cy="86.6" rx="3.55" ry="3.25" fill="#d43b17"/><ellipse cx="268.9" cy="75.9" rx="3.55" ry="3.25" fill="#d43b17"/><ellipse cx="272.7" cy="81.3" rx="3.55" ry="3.25" fill="#d43b17"/><ellipse cx="276.5" cy="74.4" rx="3.55" ry="3.25" fill="#d43b17"/><ellipse cx="279.5" cy="69.9" rx="3.55" ry="3.25" fill="#d43b17"/><ellipse cx="286.3" cy="71.4" rx="3.55" ry="3.25" fill="#d43b17"/><ellipse cx="296.2" cy="61.5" rx="3.55" ry="3.25" fill="#d43b17"/><ellipse cx="228.7" cy="151.9" rx="3.55" ry="3.25" fill="#7b0e08"/><ellipse cx="234.7" cy="149.4" rx="3.55" ry="3.25" fill="#7b0e08"/><ellipse cx="244.7" cy="142.5" rx="3.55" ry="3.25" fill="#7b0e08"/><ellipse cx="246.1" cy="144.6" rx="3.55" ry="3.25" fill="#7b0e08"/><ellipse cx="257.1" cy="128.8" rx="3.55" ry="3.25" fill="#7b0e08"/><ellipse cx="259.8" cy="125.4" rx="3.55" ry="3.25" fill="#7b0e08"/><ellipse cx="258.4" cy="136.4" rx="3.55" ry="3.25" fill="#7b0e08"/><ellipse cx="263.2" cy="134.3" rx="3.55" ry="3.25" fill="#7b0e08"/><ellipse cx="266.0" cy="131.6" rx="3.55" ry="3.25" fill="#7b0e08"/><ellipse cx="269.4" cy="129.5" rx="3.55" ry="3.25" fill="#7b0e08"/><ellipse cx="272.8" cy="127.4" rx="3.55" ry="3.25" fill="#7b0e08"/><ellipse cx="276.3" cy="119.9" rx="3.55" ry="3.25" fill="#7b0e08"/><ellipse cx="289.3" cy="113.0" rx="3.55" ry="3.25" fill="#7b0e08"/><ellipse cx="339.0" cy="99.9" rx="3.55" ry="3.25" fill="#7b0e08"/><ellipse cx="312.9" cy="103.6" rx="3.55" ry="3.25" fill="#7b0e08"/><ellipse cx="296.5" cy="111.8" rx="3.55" ry="3.25" fill="#7b0e08"/><ellipse cx="291.0" cy="113.6" rx="3.55" ry="3.25" fill="#7b0e08"/><ellipse cx="295.1" cy="119.1" rx="3.55" ry="3.25" fill="#7b0e08"/></g>
<g><circle cx="636.4" cy="39.4" r="3.1" fill="#2d1a46"/><circle cx="617.1" cy="52.8" r="3.1" fill="#2d1a46"/><circle cx="622.1" cy="58.7" r="3.1" fill="#2d1a46"/><circle cx="527.4" cy="142.8" r="3.1" fill="#2d1a46"/><circle cx="544.5" cy="121.8" r="3.1" fill="#2d1a46"/><circle cx="604.5" cy="61.2" r="3.1" fill="#4a62e2"/><circle cx="596.1" cy="73.8" r="3.1" fill="#4a62e2"/><circle cx="598.6" cy="92.3" r="3.1" fill="#4a62e2"/><circle cx="595.7" cy="73.3" r="3.1" fill="#4a62e2"/><circle cx="539.2" cy="127.8" r="3.1" fill="#4a62e2"/><circle cx="549.7" cy="138.3" r="3.1" fill="#4a62e2"/><circle cx="551.1" cy="138.9" r="3.1" fill="#4a62e2"/><circle cx="539.2" cy="128.4" r="3.1" fill="#4a62e2"/><circle cx="561.5" cy="110.7" r="3.1" fill="#4a62e2"/><circle cx="664.1" cy="15.9" r="3.1" fill="#52b2f6"/><circle cx="635.5" cy="35.2" r="3.1" fill="#52b2f6"/><circle cx="621.3" cy="53.3" r="3.1" fill="#52b2f6"/><circle cx="604.5" cy="76.3" r="3.1" fill="#52b2f6"/><circle cx="587.7" cy="85.5" r="3.1" fill="#52b2f6"/><circle cx="587.8" cy="85.8" r="3.1" fill="#52b2f6"/><circle cx="582.6" cy="105.5" r="3.1" fill="#52b2f6"/><circle cx="579.9" cy="108.1" r="3.1" fill="#52b2f6"/><circle cx="626.3" cy="31.0" r="3.1" fill="#62f0cf"/><circle cx="624.6" cy="48.3" r="3.1" fill="#62f0cf"/><circle cx="596.1" cy="63.4" r="3.1" fill="#62f0cf"/><circle cx="557.6" cy="102.8" r="3.1" fill="#62f0cf"/><circle cx="549.1" cy="110.7" r="3.1" fill="#62f0cf"/><circle cx="551.0" cy="115.3" r="3.1" fill="#62f0cf"/><circle cx="553.0" cy="117.3" r="3.1" fill="#62f0cf"/><circle cx="555.0" cy="119.9" r="3.1" fill="#62f0cf"/><circle cx="531.3" cy="136.4" r="3.1" fill="#62f0cf"/><circle cx="530.0" cy="137.6" r="3.1" fill="#62f0cf"/><circle cx="540.6" cy="136.3" r="3.1" fill="#62f0cf"/><circle cx="549.8" cy="119.9" r="3.1" fill="#62f0cf"/><circle cx="550.4" cy="112.0" r="3.1" fill="#62f0cf"/><circle cx="556.3" cy="117.2" r="3.1" fill="#62f0cf"/><circle cx="559.6" cy="101.5" r="3.1" fill="#62f0cf"/><circle cx="555.0" cy="104.2" r="3.1" fill="#62f0cf"/><circle cx="556.3" cy="112.0" r="3.1" fill="#62f0cf"/><circle cx="557.6" cy="115.3" r="3.1" fill="#62f0cf"/><circle cx="623.0" cy="37.7" r="3.1" fill="#7af65e"/><circle cx="621.3" cy="39.4" r="3.1" fill="#7af65e"/><circle cx="639.2" cy="43.6" r="3.1" fill="#7af65e"/><circle cx="613.7" cy="55.3" r="3.1" fill="#7af65e"/><circle cx="617.1" cy="62.0" r="3.1" fill="#7af65e"/><circle cx="615.4" cy="66.2" r="3.1" fill="#7af65e"/><circle cx="591.1" cy="71.8" r="3.1" fill="#7af65e"/><circle cx="569.2" cy="89.7" r="3.1" fill="#7af65e"/><circle cx="590.4" cy="72.6" r="3.1" fill="#7af65e"/><circle cx="569.4" cy="89.7" r="3.1" fill="#7af65e"/><circle cx="565.5" cy="98.2" r="3.1" fill="#7af65e"/><circle cx="563.5" cy="104.8" r="3.1" fill="#7af65e"/><circle cx="562.8" cy="101.5" r="3.1" fill="#7af65e"/><circle cx="641.4" cy="50.0" r="3.1" fill="#c8f03c"/><circle cx="617.9" cy="55.0" r="3.1" fill="#c8f03c"/><circle cx="626.3" cy="57.8" r="3.1" fill="#c8f03c"/><circle cx="608.7" cy="71.3" r="3.1" fill="#c8f03c"/><circle cx="607.8" cy="74.6" r="3.1" fill="#c8f03c"/><circle cx="599.4" cy="80.5" r="3.1" fill="#c8f03c"/><circle cx="598.6" cy="88.9" r="3.1" fill="#c8f03c"/><circle cx="594.4" cy="90.9" r="3.1" fill="#c8f03c"/><circle cx="578.5" cy="92.3" r="3.1" fill="#c8f03c"/><circle cx="580.1" cy="96.5" r="3.1" fill="#c8f03c"/><circle cx="587.7" cy="97.3" r="3.1" fill="#c8f03c"/><circle cx="607.5" cy="72.0" r="3.1" fill="#c8f03c"/><circle cx="601.0" cy="79.9" r="3.1" fill="#c8f03c"/><circle cx="595.7" cy="90.4" r="3.1" fill="#c8f03c"/><circle cx="599.0" cy="89.1" r="3.1" fill="#c8f03c"/><circle cx="579.3" cy="95.6" r="3.1" fill="#c8f03c"/><circle cx="576.0" cy="100.2" r="3.1" fill="#c8f03c"/><circle cx="583.2" cy="111.4" r="3.1" fill="#c8f03c"/><circle cx="569.4" cy="120.6" r="3.1" fill="#c8f03c"/><circle cx="534.6" cy="152.0" r="3.1" fill="#c8f03c"/><circle cx="569.5" cy="121.2" r="3.1" fill="#c8f03c"/><circle cx="577.3" cy="104.2" r="3.1" fill="#c8f03c"/><circle cx="582.6" cy="109.4" r="3.1" fill="#c8f03c"/><circle cx="569.4" cy="119.9" r="3.1" fill="#c8f03c"/><circle cx="576.0" cy="96.3" r="3.1" fill="#c8f03c"/><circle cx="585.2" cy="97.6" r="3.1" fill="#c8f03c"/><circle cx="587.8" cy="100.2" r="3.1" fill="#c8f03c"/><circle cx="595.3" cy="78.8" r="3.1" fill="#ebb743"/><circle cx="595.7" cy="79.2" r="3.1" fill="#ebb743"/><circle cx="582.6" cy="100.2" r="3.1" fill="#ebb743"/><circle cx="541.8" cy="138.3" r="3.1" fill="#ebb743"/><circle cx="508.4" cy="178.6" r="3.1" fill="#ebb743"/><circle cx="514.9" cy="171.1" r="3.1" fill="#ebb743"/><circle cx="514.3" cy="167.8" r="3.1" fill="#ebb743"/><circle cx="514.9" cy="160.6" r="3.1" fill="#ebb743"/><circle cx="532.0" cy="163.2" r="3.1" fill="#ebb743"/><circle cx="521.5" cy="154.7" r="3.1" fill="#ebb743"/><circle cx="536.0" cy="149.4" r="3.1" fill="#ebb743"/><circle cx="533.3" cy="142.2" r="3.1" fill="#ebb743"/><circle cx="541.2" cy="140.5" r="3.1" fill="#ebb743"/><circle cx="628.8" cy="36.9" r="3.1" fill="#f26f28"/><circle cx="632.2" cy="41.9" r="3.1" fill="#f26f28"/><circle cx="624.6" cy="44.4" r="3.1" fill="#f26f28"/><circle cx="611.2" cy="59.5" r="3.1" fill="#f26f28"/><circle cx="609.5" cy="65.4" r="3.1" fill="#f26f28"/><circle cx="582.7" cy="78.8" r="3.1" fill="#f26f28"/><circle cx="580.1" cy="85.5" r="3.1" fill="#f26f28"/><circle cx="590.2" cy="91.4" r="3.1" fill="#f26f28"/><circle cx="574.3" cy="92.3" r="3.1" fill="#f26f28"/><circle cx="564.2" cy="90.6" r="3.1" fill="#f26f28"/><circle cx="575.1" cy="95.6" r="3.1" fill="#f26f28"/><circle cx="582.6" cy="79.2" r="3.1" fill="#f26f28"/><circle cx="579.9" cy="85.8" r="3.1" fill="#f26f28"/><circle cx="590.4" cy="90.4" r="3.1" fill="#f26f28"/><circle cx="564.2" cy="91.0" r="3.1" fill="#f26f28"/><circle cx="574.0" cy="91.7" r="3.1" fill="#f26f28"/><circle cx="558.2" cy="99.6" r="3.1" fill="#f26f28"/><circle cx="540.5" cy="131.1" r="3.1" fill="#f26f28"/><circle cx="526.8" cy="148.1" r="3.1" fill="#f26f28"/><circle cx="540.6" cy="131.7" r="3.1" fill="#f26f28"/><circle cx="600.0" cy="75.8" r="3.1" fill="#d43b17"/><circle cx="605.3" cy="83.5" r="3.1" fill="#d43b17"/><circle cx="588.5" cy="82.5" r="3.1" fill="#d43b17"/><circle cx="599.6" cy="75.3" r="3.1" fill="#d43b17"/><circle cx="605.5" cy="83.1" r="3.1" fill="#d43b17"/><circle cx="589.1" cy="82.5" r="3.1" fill="#d43b17"/><circle cx="570.7" cy="99.6" r="3.1" fill="#d43b17"/><circle cx="573.4" cy="104.8" r="3.1" fill="#d43b17"/><circle cx="576.0" cy="109.4" r="3.1" fill="#d43b17"/><circle cx="579.9" cy="112.7" r="3.1" fill="#d43b17"/><circle cx="569.4" cy="111.4" r="3.1" fill="#d43b17"/><circle cx="565.5" cy="121.9" r="3.1" fill="#d43b17"/><circle cx="545.1" cy="123.9" r="3.1" fill="#d43b17"/><circle cx="547.1" cy="130.4" r="3.1" fill="#d43b17"/><circle cx="530.7" cy="156.6" r="3.1" fill="#d43b17"/><circle cx="545.8" cy="144.2" r="3.1" fill="#d43b17"/><circle cx="549.8" cy="147.4" r="3.1" fill="#d43b17"/><circle cx="553.0" cy="147.4" r="3.1" fill="#d43b17"/><circle cx="545.2" cy="128.4" r="3.1" fill="#d43b17"/><circle cx="558.9" cy="131.0" r="3.1" fill="#d43b17"/><circle cx="546.5" cy="123.1" r="3.1" fill="#d43b17"/><circle cx="565.5" cy="122.5" r="3.1" fill="#d43b17"/><circle cx="568.8" cy="112.0" r="3.1" fill="#d43b17"/><circle cx="569.4" cy="102.8" r="3.1" fill="#d43b17"/><circle cx="573.4" cy="101.5" r="3.1" fill="#d43b17"/><circle cx="630.5" cy="57.8" r="3.1" fill="#7b0e08"/><circle cx="604.5" cy="65.7" r="3.1" fill="#7b0e08"/><circle cx="588.5" cy="78.8" r="3.1" fill="#7b0e08"/><circle cx="583.2" cy="87.6" r="3.1" fill="#7b0e08"/><circle cx="585.2" cy="93.9" r="3.1" fill="#7b0e08"/><circle cx="568.4" cy="94.8" r="3.1" fill="#7b0e08"/><circle cx="588.5" cy="79.2" r="3.1" fill="#7b0e08"/><circle cx="583.2" cy="86.4" r="3.1" fill="#7b0e08"/><circle cx="568.8" cy="95.0" r="3.1" fill="#7b0e08"/><circle cx="585.8" cy="94.3" r="3.1" fill="#7b0e08"/><circle cx="587.8" cy="104.8" r="3.1" fill="#7b0e08"/><circle cx="552.3" cy="106.1" r="3.1" fill="#7b0e08"/><circle cx="565.5" cy="115.3" r="3.1" fill="#7b0e08"/><circle cx="560.2" cy="120.6" r="3.1" fill="#7b0e08"/><circle cx="549.1" cy="125.8" r="3.1" fill="#7b0e08"/><circle cx="556.9" cy="125.8" r="3.1" fill="#7b0e08"/><circle cx="551.0" cy="131.8" r="3.1" fill="#7b0e08"/><circle cx="555.6" cy="132.4" r="3.1" fill="#7b0e08"/><circle cx="557.6" cy="135.0" r="3.1" fill="#7b0e08"/><circle cx="535.9" cy="138.3" r="3.1" fill="#7b0e08"/><circle cx="520.8" cy="161.2" r="3.1" fill="#7b0e08"/><circle cx="527.4" cy="154.7" r="3.1" fill="#7b0e08"/><circle cx="538.6" cy="148.1" r="3.1" fill="#7b0e08"/><circle cx="536.6" cy="139.6" r="3.1" fill="#7b0e08"/><circle cx="549.1" cy="125.8" r="3.1" fill="#7b0e08"/><circle cx="557.0" cy="125.8" r="3.1" fill="#7b0e08"/><circle cx="549.8" cy="131.7" r="3.1" fill="#7b0e08"/><circle cx="554.4" cy="133.7" r="3.1" fill="#7b0e08"/><circle cx="557.6" cy="134.3" r="3.1" fill="#7b0e08"/><circle cx="560.9" cy="120.5" r="3.1" fill="#7b0e08"/><circle cx="565.5" cy="115.9" r="3.1" fill="#7b0e08"/></g>
<g><ellipse cx="286.6" cy="316.5" rx="3.55" ry="3.25" fill="#2d1a46"/><ellipse cx="220.0" cy="332.9" rx="3.55" ry="3.25" fill="#2d1a46"/><ellipse cx="244.0" cy="347.3" rx="3.55" ry="3.25" fill="#2d1a46"/><ellipse cx="232.4" cy="350.1" rx="3.55" ry="3.25" fill="#2d1a46"/><ellipse cx="237.2" cy="343.2" rx="3.55" ry="3.25" fill="#2d1a46"/><ellipse cx="251.6" cy="337.1" rx="3.55" ry="3.25" fill="#2d1a46"/><ellipse cx="344.6" cy="283.3" rx="3.55" ry="3.25" fill="#2d1a46"/><ellipse cx="348.8" cy="283.3" rx="3.55" ry="3.25" fill="#2d1a46"/><ellipse cx="322.7" cy="296.3" rx="3.55" ry="3.25" fill="#2d1a46"/><ellipse cx="327.3" cy="299.5" rx="3.55" ry="3.25" fill="#2d1a46"/><ellipse cx="312.5" cy="307.4" rx="3.55" ry="3.25" fill="#2d1a46"/><ellipse cx="287.1" cy="316.6" rx="3.55" ry="3.25" fill="#2d1a46"/><ellipse cx="283.1" cy="324.0" rx="3.55" ry="3.25" fill="#4a74ee"/><ellipse cx="265.3" cy="329.5" rx="3.55" ry="3.25" fill="#4a74ee"/><ellipse cx="267.4" cy="339.5" rx="3.55" ry="3.25" fill="#4a74ee"/><ellipse cx="232.4" cy="335.4" rx="3.55" ry="3.25" fill="#4a74ee"/><ellipse cx="252.3" cy="341.2" rx="3.55" ry="3.25" fill="#4a74ee"/><ellipse cx="256.4" cy="345.3" rx="3.55" ry="3.25" fill="#4a74ee"/><ellipse cx="239.9" cy="348.0" rx="3.55" ry="3.25" fill="#4a74ee"/><ellipse cx="239.2" cy="354.9" rx="3.55" ry="3.25" fill="#4a74ee"/><ellipse cx="204.9" cy="369.3" rx="3.55" ry="3.25" fill="#4a74ee"/><ellipse cx="216.6" cy="367.2" rx="3.55" ry="3.25" fill="#4a74ee"/><ellipse cx="214.5" cy="372.0" rx="3.55" ry="3.25" fill="#4a74ee"/><ellipse cx="222.8" cy="343.6" rx="3.55" ry="3.25" fill="#4a74ee"/><ellipse cx="205.5" cy="369.1" rx="3.55" ry="3.25" fill="#4a74ee"/><ellipse cx="216.5" cy="367.6" rx="3.55" ry="3.25" fill="#4a74ee"/><ellipse cx="214.4" cy="372.2" rx="3.55" ry="3.25" fill="#4a74ee"/><ellipse cx="340.8" cy="290.2" rx="3.55" ry="3.25" fill="#4a74ee"/><ellipse cx="337.4" cy="296.8" rx="3.55" ry="3.25" fill="#4a74ee"/><ellipse cx="319.7" cy="301.6" rx="3.55" ry="3.25" fill="#4a74ee"/><ellipse cx="323.6" cy="303.0" rx="3.55" ry="3.25" fill="#4a74ee"/><ellipse cx="307.9" cy="312.0" rx="3.55" ry="3.25" fill="#4a74ee"/><ellipse cx="289.3" cy="370.7" rx="3.55" ry="3.25" fill="#64e8da"/><ellipse cx="217.2" cy="412.0" rx="3.55" ry="3.25" fill="#64e8da"/><ellipse cx="227.4" cy="412.0" rx="3.55" ry="3.25" fill="#64e8da"/><ellipse cx="236.4" cy="407.8" rx="3.55" ry="3.25" fill="#64e8da"/><ellipse cx="236.8" cy="412.6" rx="3.55" ry="3.25" fill="#64e8da"/><ellipse cx="235.0" cy="399.6" rx="3.55" ry="3.25" fill="#64e8da"/><ellipse cx="246.7" cy="404.4" rx="3.55" ry="3.25" fill="#64e8da"/><ellipse cx="252.8" cy="398.9" rx="3.55" ry="3.25" fill="#64e8da"/><ellipse cx="257.0" cy="394.8" rx="3.55" ry="3.25" fill="#64e8da"/><ellipse cx="263.8" cy="390.7" rx="3.55" ry="3.25" fill="#64e8da"/><ellipse cx="274.1" cy="384.5" rx="3.55" ry="3.25" fill="#64e8da"/><ellipse cx="280.3" cy="386.6" rx="3.55" ry="3.25" fill="#64e8da"/><ellipse cx="276.2" cy="387.9" rx="3.55" ry="3.25" fill="#64e8da"/><ellipse cx="288.9" cy="379.0" rx="3.55" ry="3.25" fill="#64e8da"/><ellipse cx="291.3" cy="370.8" rx="3.55" ry="3.25" fill="#64e8da"/><ellipse cx="291.9" cy="370.3" rx="3.55" ry="3.25" fill="#64e8da"/><ellipse cx="289.2" cy="378.0" rx="3.55" ry="3.25" fill="#64e8da"/><ellipse cx="361.3" cy="336.6" rx="3.55" ry="3.25" fill="#64e8da"/><ellipse cx="344.6" cy="346.3" rx="3.55" ry="3.25" fill="#64e8da"/><ellipse cx="348.8" cy="346.3" rx="3.55" ry="3.25" fill="#64e8da"/><ellipse cx="329.7" cy="354.1" rx="3.55" ry="3.25" fill="#64e8da"/><ellipse cx="327.3" cy="359.2" rx="3.55" ry="3.25" fill="#64e8da"/><ellipse cx="277.0" cy="345.3" rx="3.55" ry="3.25" fill="#78f562"/><ellipse cx="279.7" cy="352.1" rx="3.55" ry="3.25" fill="#78f562"/><ellipse cx="267.4" cy="359.0" rx="3.55" ry="3.25" fill="#78f562"/><ellipse cx="252.3" cy="366.6" rx="3.55" ry="3.25" fill="#78f562"/><ellipse cx="244.7" cy="370.7" rx="3.55" ry="3.25" fill="#78f562"/><ellipse cx="234.4" cy="373.4" rx="3.55" ry="3.25" fill="#78f562"/><ellipse cx="263.2" cy="367.9" rx="3.55" ry="3.25" fill="#78f562"/><ellipse cx="234.3" cy="373.5" rx="3.55" ry="3.25" fill="#78f562"/><ellipse cx="252.1" cy="366.7" rx="3.55" ry="3.25" fill="#78f562"/><ellipse cx="245.3" cy="370.1" rx="3.55" ry="3.25" fill="#78f562"/><ellipse cx="247.3" cy="374.2" rx="3.55" ry="3.25" fill="#78f562"/><ellipse cx="224.7" cy="381.8" rx="3.55" ry="3.25" fill="#78f562"/><ellipse cx="222.0" cy="387.2" rx="3.55" ry="3.25" fill="#78f562"/><ellipse cx="230.9" cy="380.4" rx="3.55" ry="3.25" fill="#78f562"/><ellipse cx="232.9" cy="383.8" rx="3.55" ry="3.25" fill="#78f562"/><ellipse cx="267.2" cy="359.1" rx="3.55" ry="3.25" fill="#78f562"/><ellipse cx="263.1" cy="368.7" rx="3.55" ry="3.25" fill="#78f562"/><ellipse cx="325.9" cy="322.4" rx="3.55" ry="3.25" fill="#78f562"/><ellipse cx="324.5" cy="326.6" rx="3.55" ry="3.25" fill="#78f562"/><ellipse cx="318.3" cy="328.7" rx="3.55" ry="3.25" fill="#78f562"/><ellipse cx="302.3" cy="341.9" rx="3.55" ry="3.25" fill="#78f562"/><ellipse cx="317.6" cy="330.8" rx="3.55" ry="3.25" fill="#78f562"/><ellipse cx="277.0" cy="340.1" rx="3.55" ry="3.25" fill="#c9ee3a"/><ellipse cx="230.3" cy="346.4" rx="3.55" ry="3.25" fill="#c9ee3a"/><ellipse cx="243.3" cy="354.9" rx="3.55" ry="3.25" fill="#c9ee3a"/><ellipse cx="254.3" cy="349.1" rx="3.55" ry="3.25" fill="#c9ee3a"/><ellipse cx="266.0" cy="348.0" rx="3.55" ry="3.25" fill="#c9ee3a"/><ellipse cx="272.8" cy="349.7" rx="3.55" ry="3.25" fill="#c9ee3a"/><ellipse cx="260.5" cy="354.9" rx="3.55" ry="3.25" fill="#c9ee3a"/><ellipse cx="261.2" cy="357.6" rx="3.55" ry="3.25" fill="#c9ee3a"/><ellipse cx="228.9" cy="357.0" rx="3.55" ry="3.25" fill="#c9ee3a"/><ellipse cx="233.7" cy="359.0" rx="3.55" ry="3.25" fill="#c9ee3a"/><ellipse cx="237.2" cy="361.8" rx="3.55" ry="3.25" fill="#c9ee3a"/><ellipse cx="242.7" cy="362.4" rx="3.55" ry="3.25" fill="#c9ee3a"/><ellipse cx="238.5" cy="369.3" rx="3.55" ry="3.25" fill="#c9ee3a"/><ellipse cx="289.3" cy="325.4" rx="3.55" ry="3.25" fill="#c9ee3a"/><ellipse cx="289.3" cy="337.1" rx="3.55" ry="3.25" fill="#c9ee3a"/><ellipse cx="229.5" cy="357.1" rx="3.55" ry="3.25" fill="#c9ee3a"/><ellipse cx="235.7" cy="359.1" rx="3.55" ry="3.25" fill="#c9ee3a"/><ellipse cx="241.2" cy="361.2" rx="3.55" ry="3.25" fill="#c9ee3a"/><ellipse cx="243.9" cy="362.5" rx="3.55" ry="3.25" fill="#c9ee3a"/><ellipse cx="260.4" cy="357.7" rx="3.55" ry="3.25" fill="#c9ee3a"/><ellipse cx="238.4" cy="368.7" rx="3.55" ry="3.25" fill="#c9ee3a"/><ellipse cx="348.1" cy="296.3" rx="3.55" ry="3.25" fill="#c9ee3a"/><ellipse cx="338.0" cy="303.3" rx="3.55" ry="3.25" fill="#c9ee3a"/><ellipse cx="347.4" cy="306.0" rx="3.55" ry="3.25" fill="#c9ee3a"/><ellipse cx="329.1" cy="313.0" rx="3.55" ry="3.25" fill="#c9ee3a"/><ellipse cx="310.7" cy="324.9" rx="3.55" ry="3.25" fill="#c9ee3a"/><ellipse cx="291.2" cy="325.5" rx="3.55" ry="3.25" fill="#c9ee3a"/><ellipse cx="291.2" cy="337.0" rx="3.55" ry="3.25" fill="#c9ee3a"/><ellipse cx="250.2" cy="360.4" rx="3.55" ry="3.25" fill="#f09a3c"/><ellipse cx="279.0" cy="365.9" rx="3.55" ry="3.25" fill="#f09a3c"/><ellipse cx="265.3" cy="373.4" rx="3.55" ry="3.25" fill="#f09a3c"/><ellipse cx="250.1" cy="360.2" rx="3.55" ry="3.25" fill="#f09a3c"/><ellipse cx="278.2" cy="366.0" rx="3.55" ry="3.25" fill="#f09a3c"/><ellipse cx="293.3" cy="357.1" rx="3.55" ry="3.25" fill="#f09a3c"/><ellipse cx="239.8" cy="378.3" rx="3.55" ry="3.25" fill="#f09a3c"/><ellipse cx="237.7" cy="381.8" rx="3.55" ry="3.25" fill="#f09a3c"/><ellipse cx="249.4" cy="383.1" rx="3.55" ry="3.25" fill="#f09a3c"/><ellipse cx="242.5" cy="391.4" rx="3.55" ry="3.25" fill="#f09a3c"/><ellipse cx="255.6" cy="391.4" rx="3.55" ry="3.25" fill="#f09a3c"/><ellipse cx="260.4" cy="376.3" rx="3.55" ry="3.25" fill="#f09a3c"/><ellipse cx="265.2" cy="373.5" rx="3.55" ry="3.25" fill="#f09a3c"/><ellipse cx="265.9" cy="383.8" rx="3.55" ry="3.25" fill="#f09a3c"/><ellipse cx="264.5" cy="386.6" rx="3.55" ry="3.25" fill="#f09a3c"/><ellipse cx="362.7" cy="316.6" rx="3.55" ry="3.25" fill="#f09a3c"/><ellipse cx="370.3" cy="319.9" rx="3.55" ry="3.25" fill="#f09a3c"/><ellipse cx="355.0" cy="325.5" rx="3.55" ry="3.25" fill="#f09a3c"/><ellipse cx="357.1" cy="327.3" rx="3.55" ry="3.25" fill="#f09a3c"/><ellipse cx="294.7" cy="357.9" rx="3.55" ry="3.25" fill="#f09a3c"/><ellipse cx="298.2" cy="365.8" rx="3.55" ry="3.25" fill="#f09a3c"/><ellipse cx="344.4" cy="334.7" rx="3.55" ry="3.25" fill="#f09a3c"/><ellipse cx="279.4" cy="357.4" rx="3.55" ry="3.25" fill="#e24a1a"/><ellipse cx="268.0" cy="363.1" rx="3.55" ry="3.25" fill="#e24a1a"/><ellipse cx="272.8" cy="367.2" rx="3.55" ry="3.25" fill="#e24a1a"/><ellipse cx="284.5" cy="364.5" rx="3.55" ry="3.25" fill="#e24a1a"/><ellipse cx="261.9" cy="371.4" rx="3.55" ry="3.25" fill="#e24a1a"/><ellipse cx="253.6" cy="374.8" rx="3.55" ry="3.25" fill="#e24a1a"/><ellipse cx="279.6" cy="357.1" rx="3.55" ry="3.25" fill="#e24a1a"/><ellipse cx="267.9" cy="362.5" rx="3.55" ry="3.25" fill="#e24a1a"/><ellipse cx="272.7" cy="367.4" rx="3.55" ry="3.25" fill="#e24a1a"/><ellipse cx="283.7" cy="364.6" rx="3.55" ry="3.25" fill="#e24a1a"/><ellipse cx="261.8" cy="371.5" rx="3.55" ry="3.25" fill="#e24a1a"/><ellipse cx="254.2" cy="374.9" rx="3.55" ry="3.25" fill="#e24a1a"/><ellipse cx="246.0" cy="379.7" rx="3.55" ry="3.25" fill="#e24a1a"/><ellipse cx="250.1" cy="380.4" rx="3.55" ry="3.25" fill="#e24a1a"/><ellipse cx="243.2" cy="386.6" rx="3.55" ry="3.25" fill="#e24a1a"/><ellipse cx="227.4" cy="385.2" rx="3.55" ry="3.25" fill="#e24a1a"/><ellipse cx="222.6" cy="393.4" rx="3.55" ry="3.25" fill="#e24a1a"/><ellipse cx="227.4" cy="394.1" rx="3.55" ry="3.25" fill="#e24a1a"/><ellipse cx="231.6" cy="392.7" rx="3.55" ry="3.25" fill="#e24a1a"/><ellipse cx="368.2" cy="301.3" rx="3.55" ry="3.25" fill="#e24a1a"/><ellipse cx="358.5" cy="308.5" rx="3.55" ry="3.25" fill="#e24a1a"/><ellipse cx="364.1" cy="308.3" rx="3.55" ry="3.25" fill="#e24a1a"/><ellipse cx="356.4" cy="315.8" rx="3.55" ry="3.25" fill="#e24a1a"/><ellipse cx="337.4" cy="318.0" rx="3.55" ry="3.25" fill="#e24a1a"/><ellipse cx="298.2" cy="346.3" rx="3.55" ry="3.25" fill="#e24a1a"/><ellipse cx="285.7" cy="364.1" rx="3.55" ry="3.25" fill="#e24a1a"/><ellipse cx="265.3" cy="304.1" rx="3.55" ry="3.25" fill="#7b0e08"/><ellipse cx="271.5" cy="312.4" rx="3.55" ry="3.25" fill="#7b0e08"/><ellipse cx="279.0" cy="313.7" rx="3.55" ry="3.25" fill="#7b0e08"/><ellipse cx="281.1" cy="319.2" rx="3.55" ry="3.25" fill="#7b0e08"/><ellipse cx="276.7" cy="325.8" rx="3.55" ry="3.25" fill="#7b0e08"/><ellipse cx="259.1" cy="324.7" rx="3.55" ry="3.25" fill="#7b0e08"/><ellipse cx="237.9" cy="322.6" rx="3.55" ry="3.25" fill="#7b0e08"/><ellipse cx="244.0" cy="323.6" rx="3.55" ry="3.25" fill="#7b0e08"/><ellipse cx="248.8" cy="336.0" rx="3.55" ry="3.25" fill="#7b0e08"/><ellipse cx="240.6" cy="337.1" rx="3.55" ry="3.25" fill="#7b0e08"/><ellipse cx="241.3" cy="340.5" rx="3.55" ry="3.25" fill="#7b0e08"/><ellipse cx="233.7" cy="339.1" rx="3.55" ry="3.25" fill="#7b0e08"/><ellipse cx="227.6" cy="341.9" rx="3.55" ry="3.25" fill="#7b0e08"/><ellipse cx="222.8" cy="341.9" rx="3.55" ry="3.25" fill="#7b0e08"/><ellipse cx="215.9" cy="342.8" rx="3.55" ry="3.25" fill="#7b0e08"/><ellipse cx="222.1" cy="350.1" rx="3.55" ry="3.25" fill="#7b0e08"/><ellipse cx="356.4" cy="270.0" rx="3.55" ry="3.25" fill="#7b0e08"/><ellipse cx="352.3" cy="275.0" rx="3.55" ry="3.25" fill="#7b0e08"/><ellipse cx="333.5" cy="282.5" rx="3.55" ry="3.25" fill="#7b0e08"/><ellipse cx="339.1" cy="284.7" rx="3.55" ry="3.25" fill="#7b0e08"/><ellipse cx="330.5" cy="293.6" rx="3.55" ry="3.25" fill="#7b0e08"/></g>
<g><ellipse cx="575.4" cy="337.2" rx="3.5" ry="3.2" fill="#2d1a46"/><ellipse cx="511.7" cy="357.6" rx="3.5" ry="3.2" fill="#2d1a46"/><ellipse cx="534.7" cy="353.7" rx="3.5" ry="3.2" fill="#2d1a46"/><ellipse cx="541.9" cy="354.3" rx="3.5" ry="3.2" fill="#2d1a46"/><ellipse cx="509.1" cy="368.1" rx="3.5" ry="3.2" fill="#2d1a46"/><ellipse cx="524.8" cy="379.3" rx="3.5" ry="3.2" fill="#2d1a46"/><ellipse cx="524.8" cy="378.8" rx="3.5" ry="3.2" fill="#2d1a46"/><ellipse cx="637.0" cy="285.5" rx="3.5" ry="3.2" fill="#2d1a46"/><ellipse cx="640.0" cy="286.3" rx="3.5" ry="3.2" fill="#2d1a46"/><ellipse cx="614.7" cy="299.7" rx="3.5" ry="3.2" fill="#2d1a46"/><ellipse cx="618.4" cy="303.4" rx="3.5" ry="3.2" fill="#2d1a46"/><ellipse cx="603.9" cy="309.8" rx="3.5" ry="3.2" fill="#2d1a46"/><ellipse cx="578.9" cy="330.6" rx="3.5" ry="3.2" fill="#2d1a46"/><ellipse cx="579.1" cy="330.4" rx="3.5" ry="3.2" fill="#2d1a46"/><ellipse cx="575.0" cy="337.4" rx="3.5" ry="3.2" fill="#2d1a46"/><ellipse cx="542.3" cy="354.4" rx="3.5" ry="3.2" fill="#2d1a46"/><ellipse cx="557.0" cy="345.8" rx="3.5" ry="3.2" fill="#4a74ee"/><ellipse cx="524.2" cy="357.6" rx="3.5" ry="3.2" fill="#4a74ee"/><ellipse cx="541.9" cy="359.6" rx="3.5" ry="3.2" fill="#4a74ee"/><ellipse cx="513.7" cy="367.1" rx="3.5" ry="3.2" fill="#4a74ee"/><ellipse cx="496.6" cy="408.2" rx="3.5" ry="3.2" fill="#4a74ee"/><ellipse cx="505.8" cy="407.5" rx="3.5" ry="3.2" fill="#4a74ee"/><ellipse cx="496.8" cy="409.0" rx="3.5" ry="3.2" fill="#4a74ee"/><ellipse cx="506.0" cy="408.1" rx="3.5" ry="3.2" fill="#4a74ee"/><ellipse cx="632.5" cy="291.5" rx="3.5" ry="3.2" fill="#4a74ee"/><ellipse cx="629.6" cy="301.2" rx="3.5" ry="3.2" fill="#4a74ee"/><ellipse cx="610.9" cy="308.6" rx="3.5" ry="3.2" fill="#4a74ee"/><ellipse cx="599.8" cy="314.6" rx="3.5" ry="3.2" fill="#4a74ee"/><ellipse cx="574.5" cy="326.8" rx="3.5" ry="3.2" fill="#4a74ee"/><ellipse cx="574.5" cy="326.9" rx="3.5" ry="3.2" fill="#4a74ee"/><ellipse cx="570.4" cy="331.0" rx="3.5" ry="3.2" fill="#4a74ee"/><ellipse cx="599.6" cy="314.7" rx="3.5" ry="3.2" fill="#4a74ee"/><ellipse cx="556.9" cy="345.6" rx="3.5" ry="3.2" fill="#4a74ee"/><ellipse cx="572.1" cy="355.6" rx="3.5" ry="3.2" fill="#64e8da"/><ellipse cx="545.2" cy="369.4" rx="3.5" ry="3.2" fill="#64e8da"/><ellipse cx="544.5" cy="379.9" rx="3.5" ry="3.2" fill="#64e8da"/><ellipse cx="538.6" cy="386.5" rx="3.5" ry="3.2" fill="#64e8da"/><ellipse cx="528.1" cy="391.8" rx="3.5" ry="3.2" fill="#64e8da"/><ellipse cx="519.6" cy="398.3" rx="3.5" ry="3.2" fill="#64e8da"/><ellipse cx="508.4" cy="402.3" rx="3.5" ry="3.2" fill="#64e8da"/><ellipse cx="508.1" cy="402.4" rx="3.5" ry="3.2" fill="#64e8da"/><ellipse cx="519.5" cy="398.5" rx="3.5" ry="3.2" fill="#64e8da"/><ellipse cx="528.3" cy="391.9" rx="3.5" ry="3.2" fill="#64e8da"/><ellipse cx="538.3" cy="386.6" rx="3.5" ry="3.2" fill="#64e8da"/><ellipse cx="652.6" cy="288.1" rx="3.5" ry="3.2" fill="#64e8da"/><ellipse cx="638.5" cy="299.7" rx="3.5" ry="3.2" fill="#64e8da"/><ellipse cx="619.9" cy="319.0" rx="3.5" ry="3.2" fill="#64e8da"/><ellipse cx="622.9" cy="320.5" rx="3.5" ry="3.2" fill="#64e8da"/><ellipse cx="583.2" cy="338.0" rx="3.5" ry="3.2" fill="#64e8da"/><ellipse cx="580.9" cy="351.5" rx="3.5" ry="3.2" fill="#64e8da"/><ellipse cx="572.7" cy="356.1" rx="3.5" ry="3.2" fill="#64e8da"/><ellipse cx="567.5" cy="335.3" rx="3.5" ry="3.2" fill="#78f562"/><ellipse cx="561.0" cy="364.2" rx="3.5" ry="3.2" fill="#78f562"/><ellipse cx="553.7" cy="374.7" rx="3.5" ry="3.2" fill="#78f562"/><ellipse cx="536.0" cy="365.5" rx="3.5" ry="3.2" fill="#78f562"/><ellipse cx="543.9" cy="366.8" rx="3.5" ry="3.2" fill="#78f562"/><ellipse cx="514.3" cy="390.4" rx="3.5" ry="3.2" fill="#78f562"/><ellipse cx="524.2" cy="389.1" rx="3.5" ry="3.2" fill="#78f562"/><ellipse cx="524.8" cy="396.4" rx="3.5" ry="3.2" fill="#78f562"/><ellipse cx="524.8" cy="396.3" rx="3.5" ry="3.2" fill="#78f562"/><ellipse cx="514.3" cy="390.6" rx="3.5" ry="3.2" fill="#78f562"/><ellipse cx="616.2" cy="311.6" rx="3.5" ry="3.2" fill="#78f562"/><ellipse cx="615.4" cy="308.6" rx="3.5" ry="3.2" fill="#78f562"/><ellipse cx="609.5" cy="316.0" rx="3.5" ry="3.2" fill="#78f562"/><ellipse cx="609.5" cy="320.2" rx="3.5" ry="3.2" fill="#78f562"/><ellipse cx="568.0" cy="335.1" rx="3.5" ry="3.2" fill="#78f562"/><ellipse cx="609.5" cy="317.0" rx="3.5" ry="3.2" fill="#78f562"/><ellipse cx="610.1" cy="319.9" rx="3.5" ry="3.2" fill="#78f562"/><ellipse cx="593.1" cy="341.5" rx="3.5" ry="3.2" fill="#78f562"/><ellipse cx="561.6" cy="363.7" rx="3.5" ry="3.2" fill="#78f562"/><ellipse cx="521.5" cy="353.7" rx="3.5" ry="3.2" fill="#c9ee3a"/><ellipse cx="545.2" cy="356.9" rx="3.5" ry="3.2" fill="#c9ee3a"/><ellipse cx="521.5" cy="370.7" rx="3.5" ry="3.2" fill="#c9ee3a"/><ellipse cx="525.5" cy="368.1" rx="3.5" ry="3.2" fill="#c9ee3a"/><ellipse cx="524.2" cy="373.4" rx="3.5" ry="3.2" fill="#c9ee3a"/><ellipse cx="524.8" cy="372.6" rx="3.5" ry="3.2" fill="#c9ee3a"/><ellipse cx="639.7" cy="272.9" rx="3.5" ry="3.2" fill="#c9ee3a"/><ellipse cx="629.6" cy="288.1" rx="3.5" ry="3.2" fill="#c9ee3a"/><ellipse cx="638.8" cy="298.2" rx="3.5" ry="3.2" fill="#c9ee3a"/><ellipse cx="620.6" cy="310.8" rx="3.5" ry="3.2" fill="#c9ee3a"/><ellipse cx="602.5" cy="324.2" rx="3.5" ry="3.2" fill="#c9ee3a"/><ellipse cx="583.1" cy="319.0" rx="3.5" ry="3.2" fill="#c9ee3a"/><ellipse cx="582.6" cy="319.3" rx="3.5" ry="3.2" fill="#c9ee3a"/><ellipse cx="602.5" cy="324.2" rx="3.5" ry="3.2" fill="#c9ee3a"/><ellipse cx="582.6" cy="345.6" rx="3.5" ry="3.2" fill="#c9ee3a"/><ellipse cx="545.8" cy="357.3" rx="3.5" ry="3.2" fill="#c9ee3a"/><ellipse cx="541.9" cy="334.6" rx="3.5" ry="3.2" fill="#f09a3c"/><ellipse cx="570.1" cy="335.9" rx="3.5" ry="3.2" fill="#f09a3c"/><ellipse cx="551.8" cy="356.3" rx="3.5" ry="3.2" fill="#f09a3c"/><ellipse cx="555.7" cy="355.6" rx="3.5" ry="3.2" fill="#f09a3c"/><ellipse cx="558.3" cy="369.4" rx="3.5" ry="3.2" fill="#f09a3c"/><ellipse cx="557.0" cy="372.0" rx="3.5" ry="3.2" fill="#f09a3c"/><ellipse cx="529.4" cy="365.5" rx="3.5" ry="3.2" fill="#f09a3c"/><ellipse cx="541.2" cy="369.4" rx="3.5" ry="3.2" fill="#f09a3c"/><ellipse cx="533.4" cy="374.7" rx="3.5" ry="3.2" fill="#f09a3c"/><ellipse cx="547.2" cy="376.0" rx="3.5" ry="3.2" fill="#f09a3c"/><ellipse cx="662.3" cy="266.6" rx="3.5" ry="3.2" fill="#f09a3c"/><ellipse cx="654.1" cy="269.1" rx="3.5" ry="3.2" fill="#f09a3c"/><ellipse cx="648.9" cy="275.8" rx="3.5" ry="3.2" fill="#f09a3c"/><ellipse cx="645.9" cy="286.3" rx="3.5" ry="3.2" fill="#f09a3c"/><ellipse cx="636.3" cy="292.2" rx="3.5" ry="3.2" fill="#f09a3c"/><ellipse cx="590.1" cy="330.6" rx="3.5" ry="3.2" fill="#f09a3c"/><ellipse cx="542.3" cy="334.5" rx="3.5" ry="3.2" fill="#f09a3c"/><ellipse cx="570.6" cy="335.9" rx="3.5" ry="3.2" fill="#f09a3c"/><ellipse cx="589.6" cy="330.8" rx="3.5" ry="3.2" fill="#f09a3c"/><ellipse cx="586.1" cy="337.4" rx="3.5" ry="3.2" fill="#f09a3c"/><ellipse cx="551.7" cy="356.7" rx="3.5" ry="3.2" fill="#f09a3c"/><ellipse cx="555.2" cy="355.5" rx="3.5" ry="3.2" fill="#f09a3c"/><ellipse cx="596.1" cy="368.4" rx="3.5" ry="3.2" fill="#f09a3c"/><ellipse cx="576.7" cy="347.1" rx="3.5" ry="3.2" fill="#e24a1a"/><ellipse cx="564.9" cy="349.1" rx="3.5" ry="3.2" fill="#e24a1a"/><ellipse cx="559.6" cy="353.0" rx="3.5" ry="3.2" fill="#e24a1a"/><ellipse cx="545.8" cy="361.5" rx="3.5" ry="3.2" fill="#e24a1a"/><ellipse cx="554.4" cy="366.8" rx="3.5" ry="3.2" fill="#e24a1a"/><ellipse cx="536.6" cy="369.4" rx="3.5" ry="3.2" fill="#e24a1a"/><ellipse cx="519.6" cy="378.0" rx="3.5" ry="3.2" fill="#e24a1a"/><ellipse cx="536.0" cy="383.2" rx="3.5" ry="3.2" fill="#e24a1a"/><ellipse cx="541.2" cy="383.2" rx="3.5" ry="3.2" fill="#e24a1a"/><ellipse cx="518.2" cy="394.1" rx="3.5" ry="3.2" fill="#e24a1a"/><ellipse cx="514.3" cy="404.2" rx="3.5" ry="3.2" fill="#e24a1a"/><ellipse cx="522.8" cy="403.6" rx="3.5" ry="3.2" fill="#e24a1a"/><ellipse cx="514.3" cy="404.2" rx="3.5" ry="3.2" fill="#e24a1a"/><ellipse cx="523.0" cy="403.3" rx="3.5" ry="3.2" fill="#e24a1a"/><ellipse cx="518.6" cy="393.6" rx="3.5" ry="3.2" fill="#e24a1a"/><ellipse cx="519.1" cy="378.3" rx="3.5" ry="3.2" fill="#e24a1a"/><ellipse cx="540.5" cy="383.1" rx="3.5" ry="3.2" fill="#e24a1a"/><ellipse cx="535.7" cy="383.1" rx="3.5" ry="3.2" fill="#e24a1a"/><ellipse cx="655.6" cy="263.9" rx="3.5" ry="3.2" fill="#e24a1a"/><ellipse cx="659.3" cy="268.4" rx="3.5" ry="3.2" fill="#e24a1a"/><ellipse cx="650.1" cy="273.6" rx="3.5" ry="3.2" fill="#e24a1a"/><ellipse cx="629.3" cy="279.1" rx="3.5" ry="3.2" fill="#e24a1a"/><ellipse cx="648.2" cy="293.4" rx="3.5" ry="3.2" fill="#e24a1a"/><ellipse cx="588.6" cy="321.6" rx="3.5" ry="3.2" fill="#e24a1a"/><ellipse cx="590.8" cy="333.9" rx="3.5" ry="3.2" fill="#e24a1a"/><ellipse cx="588.5" cy="321.4" rx="3.5" ry="3.2" fill="#e24a1a"/><ellipse cx="590.8" cy="334.5" rx="3.5" ry="3.2" fill="#e24a1a"/><ellipse cx="576.2" cy="346.8" rx="3.5" ry="3.2" fill="#e24a1a"/><ellipse cx="564.5" cy="349.1" rx="3.5" ry="3.2" fill="#e24a1a"/><ellipse cx="559.3" cy="352.0" rx="3.5" ry="3.2" fill="#e24a1a"/><ellipse cx="545.8" cy="361.4" rx="3.5" ry="3.2" fill="#e24a1a"/><ellipse cx="554.0" cy="366.6" rx="3.5" ry="3.2" fill="#e24a1a"/><ellipse cx="557.0" cy="330.7" rx="3.5" ry="3.2" fill="#7b0e08"/><ellipse cx="570.8" cy="344.5" rx="3.5" ry="3.2" fill="#7b0e08"/><ellipse cx="572.8" cy="348.4" rx="3.5" ry="3.2" fill="#7b0e08"/><ellipse cx="563.6" cy="353.7" rx="3.5" ry="3.2" fill="#7b0e08"/><ellipse cx="568.2" cy="362.2" rx="3.5" ry="3.2" fill="#7b0e08"/><ellipse cx="529.4" cy="354.3" rx="3.5" ry="3.2" fill="#7b0e08"/><ellipse cx="535.3" cy="357.6" rx="3.5" ry="3.2" fill="#7b0e08"/><ellipse cx="551.1" cy="363.5" rx="3.5" ry="3.2" fill="#7b0e08"/><ellipse cx="539.9" cy="374.0" rx="3.5" ry="3.2" fill="#7b0e08"/><ellipse cx="532.7" cy="379.7" rx="3.5" ry="3.2" fill="#7b0e08"/><ellipse cx="507.1" cy="383.9" rx="3.5" ry="3.2" fill="#7b0e08"/><ellipse cx="514.3" cy="384.1" rx="3.5" ry="3.2" fill="#7b0e08"/><ellipse cx="525.5" cy="383.2" rx="3.5" ry="3.2" fill="#7b0e08"/><ellipse cx="518.9" cy="388.5" rx="3.5" ry="3.2" fill="#7b0e08"/><ellipse cx="532.0" cy="389.1" rx="3.5" ry="3.2" fill="#7b0e08"/><ellipse cx="513.7" cy="398.3" rx="3.5" ry="3.2" fill="#7b0e08"/><ellipse cx="513.4" cy="398.5" rx="3.5" ry="3.2" fill="#7b0e08"/><ellipse cx="519.1" cy="388.8" rx="3.5" ry="3.2" fill="#7b0e08"/><ellipse cx="514.3" cy="384.4" rx="3.5" ry="3.2" fill="#7b0e08"/><ellipse cx="507.3" cy="384.0" rx="3.5" ry="3.2" fill="#7b0e08"/><ellipse cx="525.7" cy="383.1" rx="3.5" ry="3.2" fill="#7b0e08"/><ellipse cx="531.8" cy="388.8" rx="3.5" ry="3.2" fill="#7b0e08"/><ellipse cx="532.7" cy="379.6" rx="3.5" ry="3.2" fill="#7b0e08"/><ellipse cx="539.7" cy="374.4" rx="3.5" ry="3.2" fill="#7b0e08"/><ellipse cx="648.2" cy="281.8" rx="3.5" ry="3.2" fill="#7b0e08"/><ellipse cx="643.7" cy="290.4" rx="3.5" ry="3.2" fill="#7b0e08"/><ellipse cx="625.8" cy="298.9" rx="3.5" ry="3.2" fill="#7b0e08"/><ellipse cx="622.1" cy="306.4" rx="3.5" ry="3.2" fill="#7b0e08"/><ellipse cx="630.8" cy="306.8" rx="3.5" ry="3.2" fill="#7b0e08"/><ellipse cx="556.9" cy="330.4" rx="3.5" ry="3.2" fill="#7b0e08"/><ellipse cx="570.4" cy="344.5" rx="3.5" ry="3.2" fill="#7b0e08"/><ellipse cx="572.7" cy="348.5" rx="3.5" ry="3.2" fill="#7b0e08"/><ellipse cx="563.4" cy="353.8" rx="3.5" ry="3.2" fill="#7b0e08"/><ellipse cx="568.0" cy="362.3" rx="3.5" ry="3.2" fill="#7b0e08"/><ellipse cx="551.1" cy="363.7" rx="3.5" ry="3.2" fill="#7b0e08"/></g>
<g><ellipse cx="205.4" cy="630.8" rx="3.55" ry="3.25" fill="#2d1a46"/><ellipse cx="209.7" cy="626.8" rx="3.55" ry="3.25" fill="#2d1a46"/><ellipse cx="215.5" cy="621.7" rx="3.55" ry="3.25" fill="#2d1a46"/><ellipse cx="219.9" cy="618.1" rx="3.55" ry="3.25" fill="#2d1a46"/><ellipse cx="216.2" cy="612.3" rx="3.55" ry="3.25" fill="#2d1a46"/><ellipse cx="222.8" cy="609.4" rx="3.55" ry="3.25" fill="#2d1a46"/><ellipse cx="224.9" cy="615.2" rx="3.55" ry="3.25" fill="#2d1a46"/><ellipse cx="229.3" cy="612.3" rx="3.55" ry="3.25" fill="#2d1a46"/><ellipse cx="230.7" cy="608.0" rx="3.55" ry="3.25" fill="#2d1a46"/><ellipse cx="235.0" cy="610.9" rx="3.55" ry="3.25" fill="#2d1a46"/><ellipse cx="237.9" cy="606.5" rx="3.55" ry="3.25" fill="#2d1a46"/><ellipse cx="239.4" cy="610.9" rx="3.55" ry="3.25" fill="#2d1a46"/><ellipse cx="240.8" cy="603.6" rx="3.55" ry="3.25" fill="#2d1a46"/><ellipse cx="245.2" cy="602.2" rx="3.55" ry="3.25" fill="#2d1a46"/><ellipse cx="247.3" cy="599.3" rx="3.55" ry="3.25" fill="#2d1a46"/><ellipse cx="246.6" cy="604.4" rx="3.55" ry="3.25" fill="#2d1a46"/><ellipse cx="254.6" cy="597.1" rx="3.55" ry="3.25" fill="#2d1a46"/><ellipse cx="224.9" cy="619.5" rx="3.55" ry="3.25" fill="#2d1a46"/><ellipse cx="221.3" cy="613.8" rx="3.55" ry="3.25" fill="#2d1a46"/><ellipse cx="254.4" cy="597.4" rx="3.55" ry="3.25" fill="#2d1a46"/><ellipse cx="244.8" cy="600.0" rx="3.55" ry="3.25" fill="#2d1a46"/><ellipse cx="236.9" cy="602.7" rx="3.55" ry="3.25" fill="#2d1a46"/><ellipse cx="222.9" cy="600.9" rx="3.55" ry="3.25" fill="#4a74ee"/><ellipse cx="227.7" cy="590.4" rx="3.55" ry="3.25" fill="#4a74ee"/><ellipse cx="241.3" cy="593.0" rx="3.55" ry="3.25" fill="#4a74ee"/><ellipse cx="249.2" cy="588.6" rx="3.55" ry="3.25" fill="#4a74ee"/><ellipse cx="250.0" cy="586.0" rx="3.55" ry="3.25" fill="#4a74ee"/><ellipse cx="258.0" cy="581.2" rx="3.55" ry="3.25" fill="#4a74ee"/><ellipse cx="264.1" cy="579.0" rx="3.55" ry="3.25" fill="#4a74ee"/><ellipse cx="262.3" cy="580.8" rx="3.55" ry="3.25" fill="#4a74ee"/><ellipse cx="243.0" cy="568.9" rx="3.55" ry="3.25" fill="#64e8da"/><ellipse cx="244.4" cy="571.8" rx="3.55" ry="3.25" fill="#64e8da"/><ellipse cx="249.5" cy="566.8" rx="3.55" ry="3.25" fill="#64e8da"/><ellipse cx="250.2" cy="560.2" rx="3.55" ry="3.25" fill="#64e8da"/><ellipse cx="256.7" cy="561.7" rx="3.55" ry="3.25" fill="#64e8da"/><ellipse cx="259.6" cy="563.9" rx="3.55" ry="3.25" fill="#64e8da"/><ellipse cx="264.7" cy="555.9" rx="3.55" ry="3.25" fill="#64e8da"/><ellipse cx="266.1" cy="560.2" rx="3.55" ry="3.25" fill="#64e8da"/><ellipse cx="271.2" cy="550.8" rx="3.55" ry="3.25" fill="#64e8da"/><ellipse cx="277.0" cy="550.1" rx="3.55" ry="3.25" fill="#64e8da"/><ellipse cx="281.3" cy="545.8" rx="3.55" ry="3.25" fill="#64e8da"/><ellipse cx="288.6" cy="540.7" rx="3.55" ry="3.25" fill="#64e8da"/><ellipse cx="290.5" cy="539.9" rx="3.55" ry="3.25" fill="#64e8da"/><ellipse cx="282.2" cy="546.8" rx="3.55" ry="3.25" fill="#64e8da"/><ellipse cx="216.2" cy="637.6" rx="3.55" ry="3.25" fill="#78f562"/><ellipse cx="219.9" cy="630.4" rx="3.55" ry="3.25" fill="#78f562"/><ellipse cx="223.5" cy="626.8" rx="3.55" ry="3.25" fill="#78f562"/><ellipse cx="227.1" cy="629.7" rx="3.55" ry="3.25" fill="#78f562"/><ellipse cx="229.3" cy="624.6" rx="3.55" ry="3.25" fill="#78f562"/><ellipse cx="232.9" cy="626.8" rx="3.55" ry="3.25" fill="#78f562"/><ellipse cx="235.0" cy="622.4" rx="3.55" ry="3.25" fill="#78f562"/><ellipse cx="239.4" cy="622.4" rx="3.55" ry="3.25" fill="#78f562"/><ellipse cx="242.3" cy="618.8" rx="3.55" ry="3.25" fill="#78f562"/><ellipse cx="245.9" cy="613.8" rx="3.55" ry="3.25" fill="#78f562"/><ellipse cx="247.3" cy="623.9" rx="3.55" ry="3.25" fill="#78f562"/><ellipse cx="250.2" cy="616.6" rx="3.55" ry="3.25" fill="#78f562"/><ellipse cx="253.1" cy="619.5" rx="3.55" ry="3.25" fill="#78f562"/><ellipse cx="245.2" cy="620.3" rx="3.55" ry="3.25" fill="#78f562"/><ellipse cx="222.0" cy="632.6" rx="3.55" ry="3.25" fill="#78f562"/><ellipse cx="225.6" cy="625.3" rx="3.55" ry="3.25" fill="#78f562"/><ellipse cx="363.1" cy="484.1" rx="3.55" ry="3.25" fill="#c9ee3a"/><ellipse cx="357.8" cy="489.6" rx="3.55" ry="3.25" fill="#c9ee3a"/><ellipse cx="353.1" cy="489.6" rx="3.55" ry="3.25" fill="#c9ee3a"/><ellipse cx="354.9" cy="493.7" rx="3.55" ry="3.25" fill="#c9ee3a"/><ellipse cx="356.6" cy="496.0" rx="3.55" ry="3.25" fill="#c9ee3a"/><ellipse cx="347.9" cy="494.9" rx="3.55" ry="3.25" fill="#c9ee3a"/><ellipse cx="352.0" cy="499.5" rx="3.55" ry="3.25" fill="#c9ee3a"/><ellipse cx="339.7" cy="498.4" rx="3.55" ry="3.25" fill="#c9ee3a"/><ellipse cx="335.0" cy="500.1" rx="3.55" ry="3.25" fill="#c9ee3a"/><ellipse cx="343.8" cy="501.9" rx="3.55" ry="3.25" fill="#c9ee3a"/><ellipse cx="337.4" cy="503.6" rx="3.55" ry="3.25" fill="#c9ee3a"/><ellipse cx="333.3" cy="505.4" rx="3.55" ry="3.25" fill="#c9ee3a"/><ellipse cx="332.7" cy="509.5" rx="3.55" ry="3.25" fill="#c9ee3a"/><ellipse cx="329.2" cy="511.8" rx="3.55" ry="3.25" fill="#c9ee3a"/><ellipse cx="314.0" cy="515.3" rx="3.55" ry="3.25" fill="#c9ee3a"/><ellipse cx="316.9" cy="514.1" rx="3.55" ry="3.25" fill="#c9ee3a"/><ellipse cx="321.6" cy="517.6" rx="3.55" ry="3.25" fill="#c9ee3a"/><ellipse cx="315.8" cy="523.8" rx="3.55" ry="3.25" fill="#c9ee3a"/><ellipse cx="231.6" cy="591.3" rx="3.55" ry="3.25" fill="#f09a3c"/><ellipse cx="235.2" cy="591.3" rx="3.55" ry="3.25" fill="#f09a3c"/><ellipse cx="238.7" cy="587.8" rx="3.55" ry="3.25" fill="#f09a3c"/><ellipse cx="243.0" cy="587.3" rx="3.55" ry="3.25" fill="#f09a3c"/><ellipse cx="246.5" cy="584.7" rx="3.55" ry="3.25" fill="#f09a3c"/><ellipse cx="215.0" cy="593.0" rx="3.55" ry="3.25" fill="#e24a1a"/><ellipse cx="217.6" cy="596.1" rx="3.55" ry="3.25" fill="#e24a1a"/><ellipse cx="220.3" cy="590.4" rx="3.55" ry="3.25" fill="#e24a1a"/><ellipse cx="223.3" cy="591.3" rx="3.55" ry="3.25" fill="#e24a1a"/><ellipse cx="226.4" cy="583.8" rx="3.55" ry="3.25" fill="#e24a1a"/><ellipse cx="229.9" cy="585.1" rx="3.55" ry="3.25" fill="#e24a1a"/><ellipse cx="233.0" cy="582.5" rx="3.55" ry="3.25" fill="#e24a1a"/><ellipse cx="233.4" cy="586.5" rx="3.55" ry="3.25" fill="#e24a1a"/><ellipse cx="237.8" cy="578.1" rx="3.55" ry="3.25" fill="#e24a1a"/><ellipse cx="238.7" cy="582.5" rx="3.55" ry="3.25" fill="#e24a1a"/><ellipse cx="242.2" cy="579.9" rx="3.55" ry="3.25" fill="#e24a1a"/><ellipse cx="244.8" cy="581.6" rx="3.55" ry="3.25" fill="#e24a1a"/><ellipse cx="245.7" cy="577.3" rx="3.55" ry="3.25" fill="#e24a1a"/><ellipse cx="249.2" cy="574.6" rx="3.55" ry="3.25" fill="#e24a1a"/><ellipse cx="252.7" cy="572.0" rx="3.55" ry="3.25" fill="#e24a1a"/><ellipse cx="254.4" cy="575.5" rx="3.55" ry="3.25" fill="#e24a1a"/><ellipse cx="213.4" cy="592.8" rx="3.55" ry="3.25" fill="#e24a1a"/><ellipse cx="269.0" cy="581.2" rx="3.55" ry="3.25" fill="#7b0e08"/><ellipse cx="269.8" cy="576.9" rx="3.55" ry="3.25" fill="#7b0e08"/><ellipse cx="274.8" cy="571.8" rx="3.55" ry="3.25" fill="#7b0e08"/><ellipse cx="278.4" cy="574.7" rx="3.55" ry="3.25" fill="#7b0e08"/><ellipse cx="284.2" cy="564.6" rx="3.55" ry="3.25" fill="#7b0e08"/><ellipse cx="286.4" cy="568.9" rx="3.55" ry="3.25" fill="#7b0e08"/><ellipse cx="312.8" cy="550.4" rx="3.55" ry="3.25" fill="#7b0e08"/><ellipse cx="311.4" cy="556.3" rx="3.55" ry="3.25" fill="#7b0e08"/><ellipse cx="314.3" cy="553.4" rx="3.55" ry="3.25" fill="#7b0e08"/><ellipse cx="295.3" cy="559.9" rx="3.55" ry="3.25" fill="#7b0e08"/><ellipse cx="300.4" cy="558.5" rx="3.55" ry="3.25" fill="#7b0e08"/><ellipse cx="303.4" cy="564.3" rx="3.55" ry="3.25" fill="#7b0e08"/><ellipse cx="285.1" cy="564.3" rx="3.55" ry="3.25" fill="#7b0e08"/><ellipse cx="286.6" cy="569.4" rx="3.55" ry="3.25" fill="#7b0e08"/><ellipse cx="292.4" cy="567.7" rx="3.55" ry="3.25" fill="#7b0e08"/><ellipse cx="280.0" cy="574.5" rx="3.55" ry="3.25" fill="#7b0e08"/><ellipse cx="227.7" cy="595.7" rx="3.55" ry="3.25" fill="#f09a3c"/><ellipse cx="252.7" cy="582.1" rx="3.55" ry="3.25" fill="#f09a3c"/><ellipse cx="253.5" cy="579.0" rx="3.55" ry="3.25" fill="#f09a3c"/><ellipse cx="258.8" cy="575.5" rx="3.55" ry="3.25" fill="#f09a3c"/><ellipse cx="261.4" cy="573.8" rx="3.55" ry="3.25" fill="#f09a3c"/><ellipse cx="264.1" cy="572.0" rx="3.55" ry="3.25" fill="#f09a3c"/><ellipse cx="262.3" cy="577.3" rx="3.55" ry="3.25" fill="#f09a3c"/></g>
<g><ellipse cx="497.9" cy="634.4" rx="3.5" ry="3.2" fill="#2d1a46"/><ellipse cx="501.8" cy="635.7" rx="3.5" ry="3.2" fill="#2d1a46"/><ellipse cx="528.8" cy="597.6" rx="3.5" ry="3.2" fill="#2d1a46"/><ellipse cx="508.4" cy="614.7" rx="3.5" ry="3.2" fill="#2d1a46"/><ellipse cx="514.3" cy="606.8" rx="3.5" ry="3.2" fill="#2d1a46"/><ellipse cx="532.0" cy="612.0" rx="3.5" ry="3.2" fill="#2d1a46"/><ellipse cx="516.3" cy="623.9" rx="3.5" ry="3.2" fill="#2d1a46"/><ellipse cx="521.5" cy="618.6" rx="3.5" ry="3.2" fill="#2d1a46"/><ellipse cx="557.7" cy="595.6" rx="3.5" ry="3.2" fill="#4a74ee"/><ellipse cx="541.9" cy="583.8" rx="3.5" ry="3.2" fill="#64e8da"/><ellipse cx="535.3" cy="593.7" rx="3.5" ry="3.2" fill="#64e8da"/><ellipse cx="556.3" cy="583.1" rx="3.5" ry="3.2" fill="#64e8da"/><ellipse cx="558.3" cy="589.7" rx="3.5" ry="3.2" fill="#64e8da"/><ellipse cx="557.0" cy="594.3" rx="3.5" ry="3.2" fill="#64e8da"/><ellipse cx="568.8" cy="575.9" rx="3.5" ry="3.2" fill="#64e8da"/><ellipse cx="574.7" cy="570.7" rx="3.5" ry="3.2" fill="#64e8da"/><ellipse cx="573.6" cy="563.8" rx="3.5" ry="3.2" fill="#64e8da"/><ellipse cx="574.2" cy="570.2" rx="3.5" ry="3.2" fill="#64e8da"/><ellipse cx="570.1" cy="576.1" rx="3.5" ry="3.2" fill="#64e8da"/><ellipse cx="557.3" cy="583.1" rx="3.5" ry="3.2" fill="#64e8da"/><ellipse cx="559.0" cy="586.6" rx="3.5" ry="3.2" fill="#64e8da"/><ellipse cx="539.9" cy="584.5" rx="3.5" ry="3.2" fill="#64e8da"/><ellipse cx="533.4" cy="593.7" rx="3.5" ry="3.2" fill="#64e8da"/><ellipse cx="559.6" cy="587.1" rx="3.5" ry="3.2" fill="#64e8da"/><ellipse cx="507.1" cy="625.8" rx="3.5" ry="3.2" fill="#78f562"/><ellipse cx="516.3" cy="621.2" rx="3.5" ry="3.2" fill="#78f562"/><ellipse cx="514.3" cy="609.4" rx="3.5" ry="3.2" fill="#78f562"/><ellipse cx="522.8" cy="616.0" rx="3.5" ry="3.2" fill="#78f562"/><ellipse cx="539.3" cy="610.1" rx="3.5" ry="3.2" fill="#78f562"/><ellipse cx="537.3" cy="593.0" rx="3.5" ry="3.2" fill="#78f562"/><ellipse cx="606.9" cy="530.5" rx="3.5" ry="3.2" fill="#c9ee3a"/><ellipse cx="613.9" cy="534.6" rx="3.5" ry="3.2" fill="#c9ee3a"/><ellipse cx="608.6" cy="542.8" rx="3.5" ry="3.2" fill="#c9ee3a"/><ellipse cx="620.9" cy="528.2" rx="3.5" ry="3.2" fill="#c9ee3a"/><ellipse cx="654.7" cy="496.3" rx="3.5" ry="3.2" fill="#c9ee3a"/><ellipse cx="650.1" cy="498.9" rx="3.5" ry="3.2" fill="#c9ee3a"/><ellipse cx="645.0" cy="500.9" rx="3.5" ry="3.2" fill="#c9ee3a"/><ellipse cx="647.0" cy="507.6" rx="3.5" ry="3.2" fill="#c9ee3a"/><ellipse cx="647.5" cy="509.6" rx="3.5" ry="3.2" fill="#c9ee3a"/><ellipse cx="639.3" cy="507.6" rx="3.5" ry="3.2" fill="#c9ee3a"/><ellipse cx="631.2" cy="508.1" rx="3.5" ry="3.2" fill="#c9ee3a"/><ellipse cx="643.9" cy="514.7" rx="3.5" ry="3.2" fill="#c9ee3a"/><ellipse cx="627.1" cy="515.8" rx="3.5" ry="3.2" fill="#c9ee3a"/><ellipse cx="629.6" cy="518.3" rx="3.5" ry="3.2" fill="#c9ee3a"/><ellipse cx="635.3" cy="516.3" rx="3.5" ry="3.2" fill="#c9ee3a"/><ellipse cx="624.5" cy="526.0" rx="3.5" ry="3.2" fill="#c9ee3a"/><ellipse cx="620.9" cy="528.5" rx="3.5" ry="3.2" fill="#c9ee3a"/><ellipse cx="613.8" cy="534.7" rx="3.5" ry="3.2" fill="#c9ee3a"/><ellipse cx="606.6" cy="530.6" rx="3.5" ry="3.2" fill="#c9ee3a"/><ellipse cx="524.2" cy="602.2" rx="3.5" ry="3.2" fill="#f09a3c"/><ellipse cx="520.2" cy="613.4" rx="3.5" ry="3.2" fill="#f09a3c"/><ellipse cx="528.1" cy="617.3" rx="3.5" ry="3.2" fill="#f09a3c"/><ellipse cx="549.1" cy="581.2" rx="3.5" ry="3.2" fill="#f09a3c"/><ellipse cx="551.8" cy="589.7" rx="3.5" ry="3.2" fill="#f09a3c"/><ellipse cx="555.7" cy="589.1" rx="3.5" ry="3.2" fill="#f09a3c"/><ellipse cx="554.4" cy="593.0" rx="3.5" ry="3.2" fill="#f09a3c"/><ellipse cx="543.9" cy="601.5" rx="3.5" ry="3.2" fill="#f09a3c"/><ellipse cx="539.9" cy="602.8" rx="3.5" ry="3.2" fill="#f09a3c"/><ellipse cx="549.7" cy="580.7" rx="3.5" ry="3.2" fill="#f09a3c"/><ellipse cx="554.3" cy="587.7" rx="3.5" ry="3.2" fill="#f09a3c"/><ellipse cx="507.7" cy="619.3" rx="3.5" ry="3.2" fill="#e24a1a"/><ellipse cx="511.0" cy="623.9" rx="3.5" ry="3.2" fill="#e24a1a"/><ellipse cx="514.3" cy="615.3" rx="3.5" ry="3.2" fill="#e24a1a"/><ellipse cx="518.2" cy="604.8" rx="3.5" ry="3.2" fill="#e24a1a"/><ellipse cx="522.8" cy="606.8" rx="3.5" ry="3.2" fill="#e24a1a"/><ellipse cx="526.8" cy="609.4" rx="3.5" ry="3.2" fill="#e24a1a"/><ellipse cx="528.1" cy="604.2" rx="3.5" ry="3.2" fill="#e24a1a"/><ellipse cx="532.0" cy="601.5" rx="3.5" ry="3.2" fill="#e24a1a"/><ellipse cx="535.3" cy="604.2" rx="3.5" ry="3.2" fill="#e24a1a"/><ellipse cx="537.3" cy="598.2" rx="3.5" ry="3.2" fill="#e24a1a"/><ellipse cx="541.2" cy="596.3" rx="3.5" ry="3.2" fill="#e24a1a"/><ellipse cx="545.2" cy="598.2" rx="3.5" ry="3.2" fill="#e24a1a"/><ellipse cx="543.9" cy="589.7" rx="3.5" ry="3.2" fill="#e24a1a"/><ellipse cx="546.5" cy="593.7" rx="3.5" ry="3.2" fill="#e24a1a"/><ellipse cx="533.4" cy="608.1" rx="3.5" ry="3.2" fill="#e24a1a"/><ellipse cx="509.7" cy="621.9" rx="3.5" ry="3.2" fill="#e24a1a"/><ellipse cx="509.7" cy="613.4" rx="3.5" ry="3.2" fill="#e24a1a"/><ellipse cx="516.3" cy="609.4" rx="3.5" ry="3.2" fill="#e24a1a"/><ellipse cx="521.5" cy="608.1" rx="3.5" ry="3.2" fill="#e24a1a"/><ellipse cx="525.5" cy="601.5" rx="3.5" ry="3.2" fill="#e24a1a"/><ellipse cx="529.4" cy="598.9" rx="3.5" ry="3.2" fill="#e24a1a"/><ellipse cx="539.9" cy="600.2" rx="3.5" ry="3.2" fill="#e24a1a"/><ellipse cx="542.6" cy="593.7" rx="3.5" ry="3.2" fill="#e24a1a"/><ellipse cx="507.1" cy="622.6" rx="3.5" ry="3.2" fill="#e24a1a"/><ellipse cx="561.0" cy="576.6" rx="3.5" ry="3.2" fill="#7b0e08"/><ellipse cx="569.5" cy="572.6" rx="3.5" ry="3.2" fill="#7b0e08"/><ellipse cx="604.0" cy="534.6" rx="3.5" ry="3.2" fill="#7b0e08"/><ellipse cx="603.4" cy="538.1" rx="3.5" ry="3.2" fill="#7b0e08"/><ellipse cx="605.7" cy="541.0" rx="3.5" ry="3.2" fill="#7b0e08"/><ellipse cx="602.8" cy="543.4" rx="3.5" ry="3.2" fill="#7b0e08"/><ellipse cx="604.0" cy="548.0" rx="3.5" ry="3.2" fill="#7b0e08"/><ellipse cx="591.1" cy="546.9" rx="3.5" ry="3.2" fill="#7b0e08"/><ellipse cx="586.5" cy="548.6" rx="3.5" ry="3.2" fill="#7b0e08"/><ellipse cx="591.7" cy="551.0" rx="3.5" ry="3.2" fill="#7b0e08"/><ellipse cx="594.6" cy="555.0" rx="3.5" ry="3.2" fill="#7b0e08"/><ellipse cx="576.5" cy="555.0" rx="3.5" ry="3.2" fill="#7b0e08"/><ellipse cx="575.4" cy="558.0" rx="3.5" ry="3.2" fill="#7b0e08"/><ellipse cx="583.5" cy="559.7" rx="3.5" ry="3.2" fill="#7b0e08"/><ellipse cx="580.0" cy="562.0" rx="3.5" ry="3.2" fill="#7b0e08"/><ellipse cx="577.7" cy="565.5" rx="3.5" ry="3.2" fill="#7b0e08"/><ellipse cx="566.6" cy="566.7" rx="3.5" ry="3.2" fill="#7b0e08"/><ellipse cx="569.5" cy="573.1" rx="3.5" ry="3.2" fill="#7b0e08"/><ellipse cx="560.8" cy="576.1" rx="3.5" ry="3.2" fill="#7b0e08"/><ellipse cx="560.8" cy="578.4" rx="3.5" ry="3.2" fill="#7b0e08"/></g>
<rect x="599.9" y="107.6" width="67.70000000000005" height="69.5" fill="#fff" stroke="#6e6e6e" stroke-width="1"/>
<circle cx="606.1" cy="115.8" r="2.7" fill="#2d1a46"/>
<text x="609.6" y="119.7" font-size="12" fill="#000">C1</text>
<circle cx="606.1" cy="129.2" r="2.7" fill="#4a62e2"/>
<text x="609.6" y="133.1" font-size="12" fill="#000">C2</text>
<circle cx="606.1" cy="142.6" r="2.7" fill="#52b2f6"/>
<text x="609.6" y="146.5" font-size="12" fill="#000">C3</text>
<circle cx="606.1" cy="155.9" r="2.7" fill="#62f0cf"/>
<text x="609.6" y="159.8" font-size="12" fill="#000">C4</text>
<circle cx="606.1" cy="169.3" r="2.7" fill="#7af65e"/>
<text x="609.6" y="173.2" font-size="12" fill="#000">C5</text>
<circle cx="635.6" cy="115.8" r="2.7" fill="#c8f03c"/>
<text x="639.2" y="119.7" font-size="12" fill="#000">C6</text>
<circle cx="635.6" cy="129.2" r="2.7" fill="#ebb743"/>
<text x="639.2" y="133.1" font-size="12" fill="#000">C7</text>
<circle cx="635.6" cy="142.6" r="2.7" fill="#f26f28"/>
<text x="639.2" y="146.5" font-size="12" fill="#000">C8</text>
<circle cx="635.6" cy="155.9" r="2.7" fill="#d43b17"/>
<text x="639.2" y="159.8" font-size="12" fill="#000">C9</text>
<circle cx="635.6" cy="169.3" r="2.7" fill="#7b0e08"/>
<text x="639.2" y="173.2" font-size="12" fill="#000">C10</text>
<rect x="602.9" y="360.5" width="65.39999999999998" height="54.30000000000001" fill="#fff" stroke="#6e6e6e" stroke-width="1"/>
<circle cx="611.1" cy="369.3" r="2.7" fill="#2d1a46"/>
<text x="614.7" y="373.2" font-size="12" fill="#000">C1</text>
<circle cx="611.1" cy="382.1" r="2.7" fill="#4a74ee"/>
<text x="614.7" y="386.0" font-size="12" fill="#000">C2</text>
<circle cx="611.1" cy="395" r="2.7" fill="#64e8da"/>
<text x="614.7" y="398.9" font-size="12" fill="#000">C3</text>
<circle cx="611.1" cy="407.8" r="2.7" fill="#78f562"/>
<text x="614.7" y="411.7" font-size="12" fill="#000">C4</text>
<circle cx="640.8" cy="369.3" r="2.7" fill="#c9ee3a"/>
<text x="644.2" y="373.2" font-size="12" fill="#000">C5</text>
<circle cx="640.8" cy="382.1" r="2.7" fill="#f09a3c"/>
<text x="644.2" y="386.0" font-size="12" fill="#000">C6</text>
<circle cx="640.8" cy="395" r="2.7" fill="#e24a1a"/>
<text x="644.2" y="398.9" font-size="12" fill="#000">C7</text>
<circle cx="640.8" cy="407.8" r="2.7" fill="#7b0e08"/>
<text x="644.2" y="411.7" font-size="12" fill="#000">C8</text>
<rect x="600.3" y="588.4" width="65.40000000000009" height="55.0" fill="#fff" stroke="#6e6e6e" stroke-width="1"/>
<circle cx="608.4" cy="597.5" r="2.7" fill="#2d1a46"/>
<text x="612.1" y="601.4" font-size="12" fill="#000">C1</text>
<circle cx="608.4" cy="610.6" r="2.7" fill="#4a74ee"/>
<text x="612.1" y="614.5" font-size="12" fill="#000">C2</text>
<circle cx="608.4" cy="623" r="2.7" fill="#64e8da"/>
<text x="612.1" y="626.9" font-size="12" fill="#000">C3</text>
<circle cx="608.4" cy="635.8" r="2.7" fill="#78f562"/>
<text x="612.1" y="639.7" font-size="12" fill="#000">C4</text>
<circle cx="638.2" cy="597.5" r="2.7" fill="#c9ee3a"/>
<text x="641.9" y="601.4" font-size="12" fill="#000">C5</text>
<circle cx="638.2" cy="610.6" r="2.7" fill="#f09a3c"/>
<text x="641.9" y="614.5" font-size="12" fill="#000">C6</text>
<circle cx="638.2" cy="623" r="2.7" fill="#e24a1a"/>
<text x="641.9" y="626.9" font-size="12" fill="#000">C7</text>
<circle cx="638.2" cy="635.8" r="2.7" fill="#7b0e08"/>
<text x="641.9" y="639.7" font-size="12" fill="#000">C8</text>
</svg>
</body></html>
